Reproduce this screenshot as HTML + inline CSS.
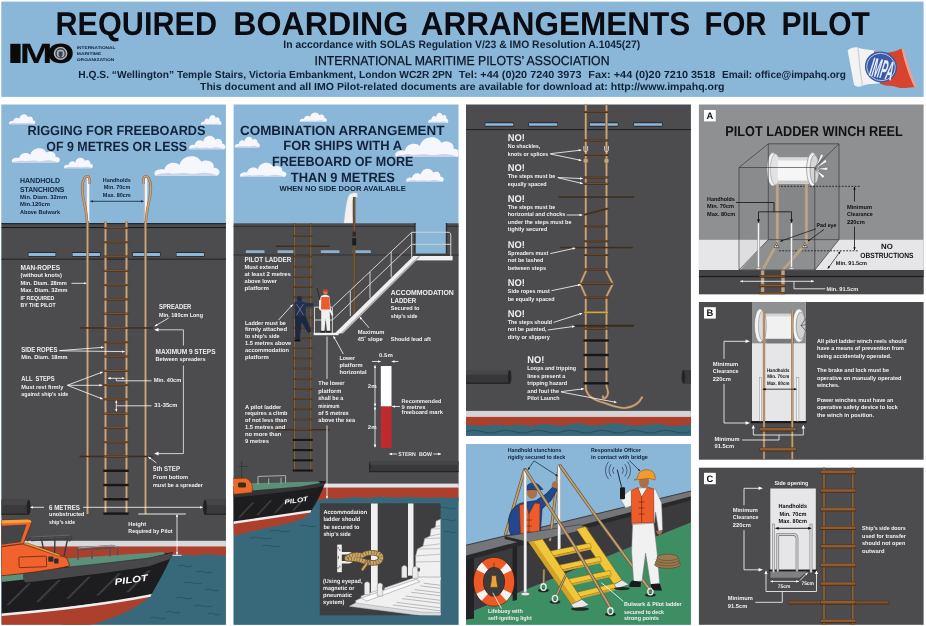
<!DOCTYPE html>
<html lang="en">
<head>
<meta charset="utf-8">
<title>Required Boarding Arrangements for Pilot</title>
<style>
html,body{margin:0;padding:0;background:#fff;}
body{width:926px;height:626px;overflow:hidden;font-family:"Liberation Sans",sans-serif;}
svg{display:block;will-change:transform;}
svg text{font-family:"Liberation Sans",sans-serif;text-rendering:geometricPrecision;}
.w{fill:#efefef;font-weight:bold;}
.d{fill:#10233a;font-weight:bold;}
.k{fill:#111;font-weight:bold;}
</style>
</head>
<body>
<svg width="926" height="626" viewBox="0 0 926 626">
<filter id="soft" x="0" y="0" width="926" height="626" filterUnits="userSpaceOnUse" color-interpolation-filters="sRGB"><feGaussianBlur stdDeviation="0.5"/></filter>
<g filter="url(#soft)">
<defs>
  <marker id="aw" viewBox="0 0 10 10" refX="9" refY="5" markerWidth="3.8" markerHeight="3.8" orient="auto-start-reverse"><path d="M0,1 L10,5 L0,9 z" fill="#fff"/></marker>
  <marker id="ak" viewBox="0 0 10 10" refX="9" refY="5" markerWidth="3.8" markerHeight="3.8" orient="auto-start-reverse"><path d="M0,1 L10,5 L0,9 z" fill="#10233a"/></marker>
  <marker id="ab" viewBox="0 0 10 10" refX="9" refY="5" markerWidth="3.8" markerHeight="3.8" orient="auto-start-reverse"><path d="M0,1 L10,5 L0,9 z" fill="#111"/></marker>
  <symbol id="cloud" viewBox="0 3.5 58 18.5" preserveAspectRatio="none" overflow="visible">
    <path d="M1.5,22 C-1.5,18.5 4,15 9.5,16.6 C10.5,10.5 19,8.5 23,12.4 C25,3.6 38.5,1.6 42.5,9.6 C47.5,6.6 54.5,9.6 53.5,14.8 C59,14.8 60.5,20 56.5,22 Z" fill="#f6f7fc"/>
    <path d="M1.5,22 C4,19.6 9,20.4 13,19.4 C18,21.4 25,18.6 31,20 C37,21.2 43,18.6 48,19.6 C52,20.4 55,20.4 56.5,22 Z" fill="#c9d3ea"/>
  </symbol>
</defs>
<rect x="0" y="0" width="926" height="626" fill="#ffffff"/>
<!-- header band -->
<rect x="1.3" y="1.6" width="922.3" height="95.3" fill="#8ab6d8"/>
<g font-size="33" font-weight="bold" fill="#0b0b12">
<text x="55.5" y="34.5" textLength="161.5" lengthAdjust="spacingAndGlyphs">REQUIRED</text>
<text x="233.3" y="34.5" textLength="175" lengthAdjust="spacingAndGlyphs">BOARDING</text>
<text x="420.8" y="34.5" textLength="269.5" lengthAdjust="spacingAndGlyphs">ARRANGEMENTS</text>
<text x="704.5" y="34.5" textLength="62" lengthAdjust="spacingAndGlyphs">FOR</text>
<text x="781.5" y="34.5" textLength="88.3" lengthAdjust="spacingAndGlyphs">PILOT</text>
</g>
<text x="283.3" y="47.6" font-size="10.8" font-weight="bold" fill="#0f2236" textLength="357" lengthAdjust="spacingAndGlyphs">In accordance with SOLAS Regulation V/23 &amp; IMO Resolution A.1045(27)</text>
<text x="314.5" y="64.6" font-size="13" fill="#0b1626" stroke="#0b1626" stroke-width="0.25" textLength="295" lengthAdjust="spacingAndGlyphs">INTERNATIONAL MARITIME PILOTS’ ASSOCIATION</text>
<g font-size="10.3" font-weight="bold" fill="#0f2236">
<text x="78.3" y="77.6" textLength="373.8" lengthAdjust="spacingAndGlyphs">H.Q.S. “Wellington” Temple Stairs, Victoria Embankment, London WC2R 2PN</text>
<text x="458.8" y="77.6" textLength="122.7" lengthAdjust="spacingAndGlyphs">Tel: +44 (0)20 7240 3973</text>
<text x="588.3" y="77.6" textLength="127" lengthAdjust="spacingAndGlyphs">Fax: +44 (0)20 7210 3518</text>
<text x="722" y="77.6" textLength="123.8" lengthAdjust="spacingAndGlyphs">Email: office@impahq.org</text>
</g>
<text x="200" y="89.6" font-size="10.3" font-weight="bold" fill="#0f2236" textLength="524.5" lengthAdjust="spacingAndGlyphs">This document and all IMO Pilot-related documents are available for download at: http://www.impahq.org</text>
<!-- IMO logo -->
<g id="imo-logo">
  <g font-size="27.9" font-weight="bold" fill="#0a0a0a">
  <text transform="translate(5.5,63) scale(2.56,1)">I</text>
  <text transform="translate(19.75,63) scale(1.408,1)">M</text>
  <text transform="translate(47.36,63.2) scale(1.242,1)">O</text>
  </g>
  <ellipse cx="61" cy="53.4" rx="9" ry="8.6" fill="#0a0a0a"/>
  <ellipse cx="60.6" cy="53.4" rx="6.8" ry="6.6" fill="#aab4bd"/>
  <ellipse cx="60.6" cy="53.4" rx="4.6" ry="4.5" fill="none" stroke="#2a2f36" stroke-width="1.2"/>
  <path d="M58.6,51.4 h4 v3 c0,1.4 -1,2.2 -2,2.6 c-1,-0.4 -2,-1.2 -2,-2.6 z" fill="#3a424c"/>
  <text x="76.8" y="49" font-size="3.9" font-weight="bold" fill="#0f2236" textLength="38.6" lengthAdjust="spacingAndGlyphs">INTERNATIONAL</text>
  <text x="76.8" y="54.9" font-size="3.9" font-weight="bold" fill="#0f2236" textLength="24.5" lengthAdjust="spacingAndGlyphs">MARITIME</text>
  <text x="76.8" y="60.8" font-size="3.9" font-weight="bold" fill="#0f2236" textLength="37.5" lengthAdjust="spacingAndGlyphs">ORGANIZATION</text>
</g>
<!-- IMPA flag logo -->
<g id="impa-logo">
  <path d="M847.6,50.6 C851,47.4 856,46.6 859,48 C864,49.6 870,49.4 876,51 L880,83 C873,84.4 867,83.6 862,86 C858.6,87.6 855.4,86.6 854,84.6 Z" fill="#f3f3f3"/>
  <path d="M858,48 C859,60 860.6,74 862.4,86" stroke="#d0d0d6" stroke-width="1.3" fill="none"/>
  <path d="M874,51 C882,53.6 891,54 901.6,48.6 C905,62 909,75 915.6,87.6 C910,86.4 904,89.4 898,87.4 C892,85.4 886,87 880,83.6 Z" fill="#d8432e"/>
  <path d="M901.6,48.6 C903.6,58 908,75 914.6,87.4 C917,88 916.6,86.4 915.6,84.4 C910.6,73 906,58 903.6,49 Z" fill="#f2a08c"/>
  <ellipse cx="881" cy="67" rx="16.2" ry="15.4" transform="rotate(20 881 67)" fill="#3a5aa6"/>
  <ellipse cx="881" cy="67" rx="14.4" ry="13.6" transform="rotate(20 881 67)" fill="none" stroke="#c8d4ee" stroke-width="0.8"/>
  <text transform="translate(868.4,75.4) rotate(13) scale(0.36,1)" font-size="27" font-weight="bold" font-style="italic" fill="#e8eefa">IMPA</text>
</g>
<!-- panel backgrounds -->
<rect x="1.3" y="104.5" width="224.6" height="520.3" fill="#8ab6d8"/>
<rect x="233.6" y="104.5" width="224.9" height="520.3" fill="#8ab6d8"/>
<rect x="466" y="104.5" width="224.9" height="331.2" fill="#4c4c4e"/>
<rect x="466" y="444" width="224.9" height="180.8" fill="#8ab6d8"/>
<rect x="698.9" y="104.5" width="224.7" height="189.7" fill="#8e9091"/>
<rect x="698.9" y="302" width="224.7" height="157.7" fill="#4c4c4e"/>
<rect x="698.9" y="467.7" width="224.7" height="157.1" fill="#4c4c4e"/>
<g id="panel1">
<clipPath id="c1"><rect x="1.3" y="104.5" width="224.6" height="520.3"/></clipPath>
<g clip-path="url(#c1)">
<use href="#cloud" x="8.75" y="113.75" width="26.25" height="10.5" preserveAspectRatio="none"/>
<use href="#cloud" x="200.75" y="114.5" width="20.5" height="10.5" preserveAspectRatio="none"/>
<use href="#cloud" x="11.25" y="147.5" width="48" height="15" preserveAspectRatio="none"/>
<use href="#cloud" x="63.75" y="157" width="28.75" height="11.25" preserveAspectRatio="none"/>
<use href="#cloud" x="188.75" y="135" width="36.25" height="14.25" preserveAspectRatio="none"/>
<use href="#cloud" x="153.75" y="155" width="65" height="20.75" preserveAspectRatio="none"/>
<rect x="1.3" y="223" width="225" height="320" fill="#4c4c4e"/>
<rect x="1.3" y="223" width="225" height="1.2" fill="#1c2832"/>
<rect x="1.3" y="227" width="225" height="1.1" fill="#1a1a1c"/>
<rect x="1.3" y="258.6" width="225" height="1.2" fill="#2a2a2c"/>
<rect x="27.9" y="252" width="28.2" height="4.8" fill="#2a2a2c" rx="0.8"/>
<rect x="28.5" y="252.9" width="27" height="3" fill="#8db9dc" rx="0.4"/>
<rect x="71.9" y="252" width="28.7" height="4.8" fill="#2a2a2c" rx="0.8"/>
<rect x="72.5" y="252.9" width="27.5" height="3" fill="#8db9dc" rx="0.4"/>
<rect x="132.4" y="252" width="28.2" height="4.8" fill="#2a2a2c" rx="0.8"/>
<rect x="133" y="252.9" width="27" height="3" fill="#8db9dc" rx="0.4"/>
<rect x="175.9" y="252" width="28.7" height="4.8" fill="#2a2a2c" rx="0.8"/>
<rect x="176.5" y="252.9" width="27.5" height="3" fill="#8db9dc" rx="0.4"/>
<rect x="1.3" y="540.8" width="225" height="5.8" fill="#d9d9db"/>
<rect x="1.3" y="546.5" width="225" height="9.5" fill="#ad402c"/>
<rect x="1.3" y="555" width="172" height="12" fill="#ad402c"/>
<path d="M172,555 C180,553.5 190,556.5 200,555 C210,553.5 218,556 226,555 L227,626 L60,626 Z" fill="#37697a"/>
<path d="M178,566 q3.5,-1.6 7.0,0 t7.0,0" fill="none" stroke="#265a6b" stroke-width="1.1"/>
<path d="M196,572 q4.0,-1.6 8.0,0 t8.0,0" fill="none" stroke="#265a6b" stroke-width="1.1"/>
<path d="M184,583 q4.5,-1.6 9.0,0 t9.0,0" fill="none" stroke="#265a6b" stroke-width="1.1"/>
<path d="M205,590 q3.5,-1.6 7.0,0 t7.0,0" fill="none" stroke="#265a6b" stroke-width="1.1"/>
<path d="M176,598 q4.0,-1.6 8.0,0 t8.0,0" fill="none" stroke="#265a6b" stroke-width="1.1"/>
<path d="M194,606 q4.5,-1.6 9.0,0 t9.0,0" fill="none" stroke="#265a6b" stroke-width="1.1"/>
<path d="M166,612 q3.5,-1.6 7.0,0 t7.0,0" fill="none" stroke="#265a6b" stroke-width="1.1"/>
<path d="M208,614 q3.0,-1.6 6.0,0 t6.0,0" fill="none" stroke="#265a6b" stroke-width="1.1"/>
<path d="M150,618 q4.0,-1.6 8.0,0 t8.0,0" fill="none" stroke="#265a6b" stroke-width="1.1"/>
<rect x="1.3" y="499.7" width="27.7" height="15.1" fill="#3a3a3c"/>
<rect x="1.3" y="499.7" width="27.7" height="5.285" fill="#464648"/>
<rect x="1.3" y="513.6" width="27.7" height="1.2" fill="#242426"/>
<ellipse cx="28.6" cy="507.25" rx="2" ry="7.55" fill="#222224"/>
<rect x="204.5" y="499.7" width="22.5" height="15.1" fill="#3a3a3c"/>
<rect x="204.5" y="499.7" width="22.5" height="5.285" fill="#464648"/>
<rect x="204.5" y="513.6" width="22.5" height="1.2" fill="#242426"/>
<ellipse cx="205" cy="507.25" rx="2" ry="7.55" fill="#222224"/>
<rect x="85.9" y="178" width="3.4" height="45" fill="#f4f4f4"/>
<rect x="85.9" y="178" width="0.7" height="45" fill="#9a9a9a"/>
<path d="M87.0,222 C86.5,205 81.1,196 82.3,186 C82.89999999999999,178.5 85.9,175.6 88.1,176.4 C90.1,177.4 89.9,181 89.7,184" fill="none" stroke="#86684a" stroke-width="2.6"/>
<path d="M87.0,222 C86.5,205 81.1,196 82.3,186 C82.89999999999999,178.5 85.9,175.6 88.1,176.4 C90.1,177.4 89.9,181 89.7,184" fill="none" stroke="#c9a47c" stroke-width="1.5"/>
<line x1="87.5" y1="221" x2="87.5" y2="514" stroke="#86684a" stroke-width="2.6"/>
<line x1="87.5" y1="221" x2="87.5" y2="514" stroke="#c9a47c" stroke-width="1.5"/>
<rect x="143.9" y="178" width="3.4" height="45" fill="#f4f4f4"/>
<rect x="143.9" y="178" width="0.7" height="45" fill="#9a9a9a"/>
<path d="M146.0,222 C146.5,205 151.89999999999998,196 150.7,186 C150.1,178.5 147.1,175.6 144.9,176.4 C142.9,177.4 143.1,181 143.3,184" fill="none" stroke="#86684a" stroke-width="2.6"/>
<path d="M146.0,222 C146.5,205 151.89999999999998,196 150.7,186 C150.1,178.5 147.1,175.6 144.9,176.4 C142.9,177.4 143.1,181 143.3,184" fill="none" stroke="#c9a47c" stroke-width="1.5"/>
<line x1="145.5" y1="221" x2="145.5" y2="514" stroke="#86684a" stroke-width="2.6"/>
<line x1="145.5" y1="221" x2="145.5" y2="514" stroke="#c9a47c" stroke-width="1.5"/>
<line x1="105.5" y1="221.5" x2="105.5" y2="514" stroke="#86684a" stroke-width="2.6"/>
<line x1="105.5" y1="221.5" x2="105.5" y2="514" stroke="#c9a47c" stroke-width="1.6"/>
<line x1="126.5" y1="221.5" x2="126.5" y2="514" stroke="#86684a" stroke-width="2.6"/>
<line x1="126.5" y1="221.5" x2="126.5" y2="514" stroke="#c9a47c" stroke-width="1.6"/>
<rect x="103.7" y="227" width="24.6" height="2" fill="#4a2f18"/>
<rect x="104" y="227.2" width="24" height="1.1" fill="#7c5430"/>
<rect x="103.7" y="241.28" width="24.6" height="2" fill="#4a2f18"/>
<rect x="104" y="241.48" width="24" height="1.1" fill="#7c5430"/>
<rect x="103.7" y="255.56" width="24.6" height="2" fill="#4a2f18"/>
<rect x="104" y="255.76" width="24" height="1.1" fill="#7c5430"/>
<rect x="103.7" y="269.84" width="24.6" height="2" fill="#4a2f18"/>
<rect x="104" y="270.04" width="24" height="1.1" fill="#7c5430"/>
<rect x="103.7" y="284.12" width="24.6" height="2" fill="#4a2f18"/>
<rect x="104" y="284.32" width="24" height="1.1" fill="#7c5430"/>
<rect x="103.7" y="298.4" width="24.6" height="2" fill="#4a2f18"/>
<rect x="104" y="298.6" width="24" height="1.1" fill="#7c5430"/>
<rect x="103.7" y="312.68" width="24.6" height="2" fill="#4a2f18"/>
<rect x="104" y="312.88" width="24" height="1.1" fill="#7c5430"/>
<rect x="79.5" y="327.21" width="73.5" height="1.5" fill="#3f2d1d"/>
<rect x="103.7" y="326.96" width="24.6" height="2" fill="#4a2f18"/>
<rect x="104" y="327.16" width="24" height="1.1" fill="#7c5430"/>
<rect x="103.7" y="341.24" width="24.6" height="2" fill="#4a2f18"/>
<rect x="104" y="341.44" width="24" height="1.1" fill="#7c5430"/>
<rect x="103.7" y="355.52" width="24.6" height="2" fill="#4a2f18"/>
<rect x="104" y="355.72" width="24" height="1.1" fill="#7c5430"/>
<rect x="103.7" y="369.8" width="24.6" height="2" fill="#4a2f18"/>
<rect x="104" y="370" width="24" height="1.1" fill="#7c5430"/>
<rect x="103.7" y="384.08" width="24.6" height="2" fill="#4a2f18"/>
<rect x="104" y="384.28" width="24" height="1.1" fill="#7c5430"/>
<rect x="103.7" y="398.36" width="24.6" height="2" fill="#4a2f18"/>
<rect x="104" y="398.56" width="24" height="1.1" fill="#7c5430"/>
<rect x="103.7" y="412.64" width="24.6" height="2" fill="#4a2f18"/>
<rect x="104" y="412.84" width="24" height="1.1" fill="#7c5430"/>
<rect x="103.7" y="426.92" width="24.6" height="2" fill="#4a2f18"/>
<rect x="104" y="427.12" width="24" height="1.1" fill="#7c5430"/>
<rect x="103.7" y="441.2" width="24.6" height="2" fill="#4a2f18"/>
<rect x="104" y="441.4" width="24" height="1.1" fill="#7c5430"/>
<rect x="79.5" y="455.73" width="73.5" height="1.5" fill="#3f2d1d"/>
<rect x="103.7" y="455.48" width="24.6" height="2" fill="#4a2f18"/>
<rect x="104" y="455.68" width="24" height="1.1" fill="#7c5430"/>
<rect x="103.4" y="469.56" width="25.2" height="2.4" fill="#161616"/>
<rect x="103.4" y="483.84" width="25.2" height="2.4" fill="#161616"/>
<rect x="103.4" y="498.12" width="25.2" height="2.4" fill="#161616"/>
<rect x="103.4" y="512.4" width="25.2" height="2.4" fill="#161616"/>
<text x="27.5" y="135" font-size="13.4" class="d" textLength="178" lengthAdjust="spacingAndGlyphs">RIGGING FOR FREEBOARDS</text>
<text x="46.3" y="151" font-size="13.4" class="d" textLength="140.7" lengthAdjust="spacingAndGlyphs">OF 9 METRES OR LESS</text>
<text x="20" y="182.6" font-size="7.3" class="d" textLength="40" lengthAdjust="spacingAndGlyphs">HANDHOLD</text>
<text x="20" y="191.7" font-size="7.3" class="d" textLength="44.3" lengthAdjust="spacingAndGlyphs">STANCHIONS</text>
<text x="20" y="199.1" font-size="5.7" class="d" textLength="47" lengthAdjust="spacingAndGlyphs">Min. Diam. 32mm</text>
<text x="20" y="206.4" font-size="5.7" class="d" textLength="30" lengthAdjust="spacingAndGlyphs">Min.120cm</text>
<text x="20" y="213.8" font-size="5.7" class="d" textLength="40" lengthAdjust="spacingAndGlyphs">Above Bulwark</text>
<text x="102.8" y="181.6" font-size="5.7" class="d" textLength="28" lengthAdjust="spacingAndGlyphs">Handholds</text>
<text x="103.8" y="189.1" font-size="5.7" class="d" textLength="26.5" lengthAdjust="spacingAndGlyphs">Min. 70cm</text>
<text x="102.8" y="196.6" font-size="5.7" class="d" textLength="28" lengthAdjust="spacingAndGlyphs">Max. 80cm</text>
<line x1="90.5" y1="201.3" x2="143.5" y2="201.3" stroke="#10233a" stroke-width="0.8" marker-end="url(#ak)" marker-start="url(#ak)"/>
<text x="20.5" y="270.2" font-size="7.3" class="w" textLength="39.5" lengthAdjust="spacingAndGlyphs">MAN-ROPES</text>
<text x="20.5" y="277.3" font-size="5.7" class="w" textLength="41.5" lengthAdjust="spacingAndGlyphs">(without knots)</text>
<text x="20.5" y="284.8" font-size="5.7" class="w" textLength="46.3" lengthAdjust="spacingAndGlyphs">Min. Diam. 28mm</text>
<text x="20.5" y="292.3" font-size="5.7" class="w" textLength="47" lengthAdjust="spacingAndGlyphs">Max. Diam. 32mm</text>
<text x="20.5" y="299.7" font-size="5.7" class="w" textLength="33.8" lengthAdjust="spacingAndGlyphs">IF REQUIRED</text>
<text x="20.5" y="307.1" font-size="5.7" class="w" textLength="35" lengthAdjust="spacingAndGlyphs">BY THE PILOT</text>
<line x1="71.5" y1="283.3" x2="86.3" y2="283.3" stroke="#fff" stroke-width="0.8" marker-end="url(#aw)"/>
<text x="159" y="308.9" font-size="7.3" class="w" textLength="32.3" lengthAdjust="spacingAndGlyphs">SPREADER</text>
<text x="159" y="317.2" font-size="5.7" class="w" textLength="44" lengthAdjust="spacingAndGlyphs">Min. 180cm Long</text>
<line x1="168.6" y1="318" x2="154.8" y2="326.2" stroke="#fff" stroke-width="0.8" marker-end="url(#aw)"/>
<path d="M155.5,329.8 H183.4 V345.6 M183.4,365.6 V453.6 H155.5" fill="none" stroke="#f0f0f0" stroke-width="0.8"/>
<path d="M158.5,328 L154.2,329.8 L158.5,331.6 Z M158.5,451.8 L154.2,453.6 L158.5,455.4 Z" fill="#fff"/>
<text x="155.5" y="353.7" font-size="7.3" class="w" textLength="60" lengthAdjust="spacingAndGlyphs">MAXIMUM 9 STEPS</text>
<text x="155.5" y="360.9" font-size="5.7" class="w" textLength="50" lengthAdjust="spacingAndGlyphs">Between spreaders</text>
<text x="21.3" y="351.6" font-size="7.3" class="w" textLength="36.2" lengthAdjust="spacingAndGlyphs">SIDE ROPES</text>
<text x="21.3" y="359.1" font-size="5.7" class="w" textLength="46.2" lengthAdjust="spacingAndGlyphs">Min. Diam. 18mm</text>
<line x1="59.5" y1="350.6" x2="103.6" y2="347.3" stroke="#fff" stroke-width="0.8" marker-end="url(#aw)"/>
<line x1="59.5" y1="350.8" x2="124.6" y2="351.6" stroke="#fff" stroke-width="0.8" marker-end="url(#aw)"/>
<text x="21.3" y="381.1" font-size="7.3" class="w" textLength="33.2" lengthAdjust="spacingAndGlyphs" xml:space="preserve">ALL  STEPS</text>
<text x="21.3" y="388.6" font-size="5.7" class="w" textLength="42" lengthAdjust="spacingAndGlyphs">Must rest firmly</text>
<text x="21.3" y="396.1" font-size="5.7" class="w" textLength="47" lengthAdjust="spacingAndGlyphs">against ship’s side</text>
<line x1="67.5" y1="385.2" x2="102.6" y2="372" stroke="#fff" stroke-width="0.8" marker-end="url(#aw)"/>
<line x1="67.5" y1="385.3" x2="102.2" y2="385.3" stroke="#fff" stroke-width="0.8" marker-end="url(#aw)"/>
<line x1="67.5" y1="385.4" x2="102.6" y2="399" stroke="#fff" stroke-width="0.8" marker-end="url(#aw)"/>
<text x="153.8" y="382.1" font-size="5.7" class="w" textLength="27.5" lengthAdjust="spacingAndGlyphs">Min. 40cm</text>
<path d="M151.5,380.8 H116.3 V378.3" fill="none" stroke="#fff" stroke-width="0.8"/>
<line x1="108" y1="378.3" x2="124.3" y2="378.3" stroke="#fff" stroke-width="0.8" marker-end="url(#aw)" marker-start="url(#aw)"/>
<text x="154.3" y="407.1" font-size="5.7" class="w" textLength="23.2" lengthAdjust="spacingAndGlyphs">31-35cm</text>
<path d="M151.5,405.8 H116.3" fill="none" stroke="#fff" stroke-width="0.8"/>
<line x1="116.3" y1="400.6" x2="116.3" y2="411.4" stroke="#fff" stroke-width="0.8" marker-end="url(#aw)" marker-start="url(#aw)"/>
<line x1="156.3" y1="462.8" x2="148.4" y2="456.9" stroke="#fff" stroke-width="0.8" marker-end="url(#aw)"/>
<text x="153" y="471.1" font-size="7" class="w" textLength="27" lengthAdjust="spacingAndGlyphs">5th STEP</text>
<text x="153" y="479.1" font-size="5.7" class="w" textLength="35" lengthAdjust="spacingAndGlyphs">From bottom</text>
<text x="153" y="486.6" font-size="5.7" class="w" textLength="50" lengthAdjust="spacingAndGlyphs">must be a spreader</text>
<line x1="44" y1="507.3" x2="30.6" y2="507.3" stroke="#fff" stroke-width="0.8" marker-end="url(#aw)"/>
<line x1="83" y1="507.3" x2="202.6" y2="507.3" stroke="#fff" stroke-width="0.8" marker-end="url(#aw)"/>
<text x="49" y="509.6" font-size="7.3" class="w" textLength="31" lengthAdjust="spacingAndGlyphs">6 METRES</text>
<text x="49" y="516.2" font-size="5.7" class="w" textLength="35.5" lengthAdjust="spacingAndGlyphs">unobstructed</text>
<text x="49" y="523.6" font-size="5.7" class="w" textLength="26" lengthAdjust="spacingAndGlyphs">ship’s side</text>
<text x="128.3" y="525.9" font-size="5.7" class="w" textLength="18" lengthAdjust="spacingAndGlyphs">Height</text>
<text x="128.3" y="533.4" font-size="5.7" class="w" textLength="44.2" lengthAdjust="spacingAndGlyphs">Required by Pilot</text>
<line x1="138.3" y1="514" x2="185.8" y2="514" stroke="#fff" stroke-width="0.9"/>
<line x1="177" y1="514.6" x2="177" y2="554.6" stroke="#fff" stroke-width="0.8" marker-end="url(#aw)" marker-start="url(#aw)"/>
<line x1="172.5" y1="555.3" x2="181.5" y2="555.3" stroke="#fff" stroke-width="0.9"/>
<g id="boat1">
<path d="M1.3,575 L60,566 L120,557 L172.8,552.6 C168,565 160,580 150.5,596 L1.3,616 Z" fill="#1d1d1f"/>
<path d="M6,605.34 l22,-22 l3,0 l-22,22 z" fill="#3c3c3f"/>
<path d="M36,602.04 l22,-22 l3,0 l-22,22 z" fill="#3c3c3f"/>
<path d="M66,598.74 l22,-22 l3,0 l-22,22 z" fill="#3c3c3f"/>
<path d="M96,595.44 l22,-22 l3,0 l-22,22 z" fill="#3c3c3f"/>
<path d="M126,592.14 l22,-22 l3,0 l-22,22 z" fill="#3c3c3f"/>
<path d="M1.3,615 Q90,608 150.4,596 C140,606 120,616 100,622 C92,624.6 86,626 82,626 L1.3,626 Z" fill="#ad402c"/>
<path d="M1.3,613.4 Q90,606 151.8,594 L150.4,596.8 Q90,608.6 1.3,616 Z" fill="#efefef"/>
<path d="M1.3,575.5 L24,573.5 L24,579.5 L1.3,582 Z" fill="#5d9079"/>
<path d="M66,558.5 L163,552 L166,554.8 L140,562.5 L69,568 Z" fill="#5d9079"/>
<path d="M24,571.4 C60,568 110,563 149,558 L172.8,552.6 L171.4,558.4 L149,566.2 C110,572.6 60,578.6 26,582.4 C22.5,582.4 22.5,572 24,571.4 Z" fill="#48484b"/>
<path d="M24,571.4 C60,568 110,563 149,558 L172.8,552.6" fill="none" stroke="#2a2a2c" stroke-width="0.6"/>
<path d="M1.3,546.8 L22,543.8 L52,553.5 L66.5,557.5 L69.8,565.8 C60,568.6 30,573 1.3,575.8 Z" fill="#f0632c" stroke="#5a2410" stroke-width="0.7"/>
<path d="M1.3,520.4 L27,519.6 C30,519.6 32,521 31.4,523 L23.5,543.6 L1.3,546.5 Z" fill="#f0632c" stroke="#5a2410" stroke-width="0.7"/>
<path d="M1.3,525.8 L26.6,524.6 L20.6,542.2 L1.3,544.8 Z" fill="#454548"/>
<path d="M1.3,520.2 L27,519.4 C29.6,519.3 31.6,520.6 31.6,522.2 L1.3,523.6 Z" fill="#f6a23a"/>
<path d="M23,543.4 L27,542.8 L62,555.4 L58,556 Z" fill="#f6a23a" stroke="#5a2410" stroke-width="0.4"/>
<rect x="19" y="556.6" width="27.5" height="10.6" fill="#f0632c" stroke="#7a2c12" stroke-width="0.9" rx="0.8" transform="rotate(-2 32 562)"/>
<rect x="48.2" y="556.6" width="5.2" height="5.2" fill="#2e2e30" rx="1"/>
<rect x="54" y="558.4" width="4.6" height="5.2" fill="#2e2e30" rx="1"/>
<path d="M27,541 L31,537.4 L70,535.6 L72,538 L69,541.4 M41,537 L43.4,548.6 M55,536.4 L54.6,553 M68,537 L64,556 M31,540.6 L69,538.6" fill="none" stroke="#3c3c40" stroke-width="1.4"/>
<path d="M31,537 L70,535.2" fill="none" stroke="#8a8a90" stroke-width="0.5"/>
<path d="M78,560 V548 L112,545.4 L117.6,547 V555.4 M92,559 V550.6 M110,556.6 V548 M80,549.8 L116,547.6" fill="none" stroke="#505054" stroke-width="1.3"/>
<path d="M78,548 L112,545.4 L117.6,547" fill="none" stroke="#cfcfd2" stroke-width="0.7"/>
<text x="115" y="585" font-size="9" font-weight="bold" font-style="italic" fill="#fff" textLength="33.4" lengthAdjust="spacingAndGlyphs" transform="rotate(-7.5 115 585)">PILOT</text>
</g>
</g>
</g>
<g id="panel2">
<clipPath id="c2"><rect x="233.6" y="104.5" width="224.9" height="520.3"/></clipPath>
<g clip-path="url(#c2)">
<use href="#cloud" x="299.5" y="112" width="27" height="9.75" preserveAspectRatio="none"/>
<use href="#cloud" x="428" y="112" width="20" height="11" preserveAspectRatio="none"/>
<use href="#cloud" x="234.5" y="136" width="25" height="11.5" preserveAspectRatio="none"/>
<use href="#cloud" x="394.5" y="136" width="64" height="21" preserveAspectRatio="none"/>
<use href="#cloud" x="239.5" y="162" width="46.25" height="15" preserveAspectRatio="none"/>
<use href="#cloud" x="405.75" y="168" width="37.5" height="14" preserveAspectRatio="none"/>
<path d="M343.8,223.4 C345,212 346.5,200 348.5,196 C350,192.6 355,192.2 357.4,193.2 L357.4,197.4 C355,196.6 353.2,197 352.6,199.5 C352,206 352.6,215 352.9,223.4 Z" fill="#f2f2f2" stroke="#b8b8bc" stroke-width="0.5"/>
<rect x="233" y="223.3" width="226" height="262" fill="#4c4c4e"/>
<rect x="233" y="225.9" width="226" height="0.9" fill="#2c2c2e"/>
<rect x="415.2" y="222.5" width="31" height="31" fill="#8ab6d8"/>
<rect x="414.2" y="223" width="1.4" height="30.6" fill="#2e2e30"/>
<rect x="445.8" y="223" width="1.4" height="30.6" fill="#2e2e30"/>
<rect x="245.8" y="250.2" width="18.7" height="2.8" fill="#8fb0cc" rx="0.5"/>
<rect x="277.5" y="250.2" width="17" height="2.8" fill="#8fb0cc" rx="0.5"/>
<rect x="320.8" y="250.2" width="18.7" height="2.8" fill="#8fb0cc" rx="0.5"/>
<rect x="352.8" y="250.2" width="18" height="2.8" fill="#8fb0cc" rx="0.5"/>
<rect x="233" y="254.5" width="226" height="0.9" fill="#2e2e30"/>
<rect x="233" y="483.6" width="226" height="4.2" fill="#e2e2e4"/>
<rect x="233" y="487.6" width="226" height="13.4" fill="#ad402c"/>
<path d="M233,500 L320,500 C330,497.5 338,499.5 346,498 C356,496 364,498.6 372,497.4 C382,495.6 392,498.4 402,497.4 C414,496 424,498.6 436,497.6 C444,497 452,498.4 459,497.6 L460,626 L233,626 Z" fill="#37697a"/>
<path d="M250,538 q5.5,-1.6 11.0,0 t11.0,0" fill="none" stroke="#24586a" stroke-width="1"/>
<path d="M270,531 q5.0,-1.6 10.0,0 t10.0,0" fill="none" stroke="#24586a" stroke-width="1"/>
<path d="M262,546 q4.5,-1.6 9.0,0 t9.0,0" fill="none" stroke="#24586a" stroke-width="1"/>
<path d="M300,526 q4.0,-1.6 8.0,0 t8.0,0" fill="none" stroke="#24586a" stroke-width="1"/>
<path d="M438,508 q4.5,-1.6 9.0,0 t9.0,0" fill="none" stroke="#24586a" stroke-width="1"/>
<path d="M442,520 q3.5,-1.6 7.0,0 t7.0,0" fill="none" stroke="#24586a" stroke-width="1"/>
<path d="M444,532 q3.0,-1.6 6.0,0 t6.0,0" fill="none" stroke="#24586a" stroke-width="1"/>
<rect x="369" y="461.5" width="91" height="10.6" fill="#38383a"/>
<rect x="369" y="461.5" width="90" height="3.6" fill="#454547"/>
<rect x="369" y="470.9" width="90" height="1.2" fill="#242426"/>
<path d="M369,461.5 l2.4,5.3 l-2.4,5.3 z" fill="#262628"/>
<line x1="354.2" y1="197" x2="354.2" y2="313" stroke="#5e4426" stroke-width="2.4"/>
<line x1="354.2" y1="197" x2="354.2" y2="313" stroke="#7c5a32" stroke-width="1.2"/>
<rect x="352.6" y="231.5" width="3.2" height="5" fill="#2a2a2c"/>
<rect x="352.2" y="238" width="4" height="7.6" fill="#1c1c1e" rx="1"/>
<line x1="294.6" y1="223" x2="294.6" y2="471.6" stroke="#4a3c2a" stroke-width="2.3"/>
<line x1="294.6" y1="223" x2="294.6" y2="471.6" stroke="#7d6446" stroke-width="1.3"/>
<line x1="310.8" y1="223" x2="310.8" y2="471.6" stroke="#4a3c2a" stroke-width="2.3"/>
<line x1="310.8" y1="223" x2="310.8" y2="471.6" stroke="#7d6446" stroke-width="1.3"/>
<rect x="293" y="225.012" width="19.4" height="1.7" fill="#4a3522"/>
<rect x="293.3" y="225.212" width="18.8" height="0.8" fill="#64472a"/>
<rect x="293" y="235.206" width="19.4" height="1.7" fill="#4a3522"/>
<rect x="293.3" y="235.406" width="18.8" height="0.8" fill="#64472a"/>
<rect x="275.8" y="245.5" width="53.7" height="1.5" fill="#3f2d1d"/>
<rect x="293" y="245.4" width="19.4" height="1.7" fill="#4a3522"/>
<rect x="293.3" y="245.6" width="18.8" height="0.8" fill="#64472a"/>
<rect x="293" y="255.594" width="19.4" height="1.7" fill="#4a3522"/>
<rect x="293.3" y="255.794" width="18.8" height="0.8" fill="#64472a"/>
<rect x="293" y="265.788" width="19.4" height="1.7" fill="#4a3522"/>
<rect x="293.3" y="265.988" width="18.8" height="0.8" fill="#64472a"/>
<rect x="293" y="275.982" width="19.4" height="1.7" fill="#4a3522"/>
<rect x="293.3" y="276.182" width="18.8" height="0.8" fill="#64472a"/>
<rect x="293" y="286.176" width="19.4" height="1.7" fill="#4a3522"/>
<rect x="293.3" y="286.376" width="18.8" height="0.8" fill="#64472a"/>
<rect x="293" y="296.37" width="19.4" height="1.7" fill="#4a3522"/>
<rect x="293.3" y="296.57" width="18.8" height="0.8" fill="#64472a"/>
<rect x="293" y="306.564" width="19.4" height="1.7" fill="#4a3522"/>
<rect x="293.3" y="306.764" width="18.8" height="0.8" fill="#64472a"/>
<rect x="293" y="316.758" width="19.4" height="1.7" fill="#4a3522"/>
<rect x="293.3" y="316.958" width="18.8" height="0.8" fill="#64472a"/>
<rect x="293" y="326.952" width="19.4" height="1.7" fill="#4a3522"/>
<rect x="293.3" y="327.152" width="18.8" height="0.8" fill="#64472a"/>
<rect x="293" y="337.146" width="19.4" height="1.7" fill="#4a3522"/>
<rect x="293.3" y="337.346" width="18.8" height="0.8" fill="#64472a"/>
<rect x="293" y="347.34" width="19.4" height="1.7" fill="#4a3522"/>
<rect x="293.3" y="347.54" width="18.8" height="0.8" fill="#64472a"/>
<rect x="293" y="357.534" width="19.4" height="1.7" fill="#4a3522"/>
<rect x="293.3" y="357.734" width="18.8" height="0.8" fill="#64472a"/>
<rect x="293" y="367.728" width="19.4" height="1.7" fill="#4a3522"/>
<rect x="293.3" y="367.928" width="18.8" height="0.8" fill="#64472a"/>
<rect x="293" y="377.922" width="19.4" height="1.7" fill="#4a3522"/>
<rect x="293.3" y="378.122" width="18.8" height="0.8" fill="#64472a"/>
<rect x="293" y="388.116" width="19.4" height="1.7" fill="#4a3522"/>
<rect x="293.3" y="388.316" width="18.8" height="0.8" fill="#64472a"/>
<rect x="293" y="398.31" width="19.4" height="1.7" fill="#4a3522"/>
<rect x="293.3" y="398.51" width="18.8" height="0.8" fill="#64472a"/>
<rect x="293" y="408.504" width="19.4" height="1.7" fill="#4a3522"/>
<rect x="293.3" y="408.704" width="18.8" height="0.8" fill="#64472a"/>
<rect x="293" y="418.698" width="19.4" height="1.7" fill="#4a3522"/>
<rect x="293.3" y="418.898" width="18.8" height="0.8" fill="#64472a"/>
<rect x="275.8" y="428.992" width="53.7" height="1.5" fill="#3f2d1d"/>
<rect x="293" y="428.892" width="19.4" height="1.7" fill="#4a3522"/>
<rect x="293.3" y="429.092" width="18.8" height="0.8" fill="#64472a"/>
<rect x="292.7" y="438.886" width="20" height="2.1" fill="#161616"/>
<rect x="292.7" y="449.08" width="20" height="2.1" fill="#161616"/>
<rect x="292.7" y="459.274" width="20" height="2.1" fill="#161616"/>
<rect x="292.7" y="469.468" width="20" height="2.1" fill="#161616"/>
<path d="M411.7,258 V232.3 H448 C450,232.3 450.8,233.2 450.8,235 V256 M411.7,244.3 H450.8" fill="none" stroke="#cfd0d3" stroke-width="1"/>
<path d="M411.7,232.3 L332.4,307.2 M411.7,244.3 L332.4,320 M391.2,252 V277 M370,272 V298 M350.3,291 V316 M332.4,307.2 V333" fill="none" stroke="#cfd0d3" stroke-width="1"/>
<path d="M332.4,307.2 H314.5 V334 M314.5,320 H332.4" fill="none" stroke="#cfd0d3" stroke-width="1"/>
<rect x="413" y="256" width="39.6" height="4.4" fill="#f0f0f0"/>
<path d="M413.2,256.2 L418.4,256.2 L340.8,333.6 L334.6,333.6 Z" fill="#f0f0f0"/>
<path d="M418.4,256.2 L420.6,256.2 L343,333.6 L340.8,333.6 Z" fill="#b4b4b8"/>
<rect x="313.6" y="332.8" width="25" height="2.4" fill="#f0f0f0"/>
<g id="pilot-figure">
<circle cx="299.4" cy="298.6" r="2.6" fill="#1f2a44"/>
<path d="M294.4,302.5 C296,300.8 303,300.6 304.8,302.4 L313.6,303.6 L313.8,306 L305.6,306.8 L305.8,317 L294.6,317 Z" fill="#22314f"/>
<path d="M295,316.4 L305.8,316.4 L311.4,331.6 L308,333 L301.6,322 L299.6,340.6 L295.4,340.6 Z" fill="#1c2740"/>
<rect x="294.4" y="339.6" width="6" height="1.8" fill="#111"/>
<path d="M296.5,304 L303.4,315 M303.4,304 L296.5,315" fill="none" stroke="#8d94a6" stroke-width="0.6"/>
</g>
<g id="crew-figure">
<path d="M321,296.5 C320.6,294.6 329.6,294.4 329.4,296.6 L330.6,308 L333.4,315 L331.8,316 L329.8,311.6 L330.2,331.6 L327,331.6 L325.6,318 L324.4,331.6 L321.2,331.6 L321.2,311 L319,309 L319,301 Z" fill="#f0f0f0"/>
<path d="M321.4,297 L329.4,297 L330,309.6 L321,309.6 Z" fill="#ea5a2a"/>
<circle cx="325.4" cy="292.6" r="2.3" fill="#b98360"/>
<path d="M322.4,291.6 C322.4,288 328.6,288 328.6,291.6 Z" fill="#d2382b"/>
<rect x="320.4" y="330.8" width="4.6" height="1.6" fill="#222"/>
<rect x="326.2" y="330.8" width="4.6" height="1.6" fill="#222"/>
<path d="M317,288 L320,300" fill="none" stroke="#222" stroke-width="0.8"/>
</g>
<rect x="380.8" y="366" width="10.7" height="40.6" fill="#ffffff"/>
<rect x="380.8" y="406.5" width="10.7" height="41.3" fill="#c02a2d"/>
<line x1="327" y1="336.5" x2="327" y2="379" stroke="#fff" stroke-width="0.8"/>
<line x1="327" y1="425.5" x2="327" y2="498.4" stroke="#fff" stroke-width="0.8" marker-end="url(#aw)"/>
<text x="240" y="134.6" font-size="13.4" class="d" textLength="204.5" lengthAdjust="spacingAndGlyphs">COMBINATION ARRANGEMENT</text>
<text x="283.3" y="150.4" font-size="13.4" class="d" textLength="118.7" lengthAdjust="spacingAndGlyphs">FOR SHIPS WITH A</text>
<text x="272" y="166.2" font-size="13.4" class="d" textLength="141.3" lengthAdjust="spacingAndGlyphs">FREEBOARD OF MORE</text>
<text x="290.8" y="181.6" font-size="13.4" class="d" textLength="104.2" lengthAdjust="spacingAndGlyphs">THAN 9 METRES</text>
<text x="279.5" y="191.3" font-size="7.2" class="d" textLength="126.3" lengthAdjust="spacingAndGlyphs">WHEN NO SIDE DOOR AVAILABLE</text>
<text x="244.5" y="262.2" font-size="7.3" class="w" textLength="46.8" lengthAdjust="spacingAndGlyphs">PILOT LADDER</text>
<text x="244.5" y="269.2" font-size="5.7" class="w" textLength="33.8" lengthAdjust="spacingAndGlyphs">Must extend</text>
<text x="244.5" y="276.05" font-size="5.7" class="w" textLength="46.3" lengthAdjust="spacingAndGlyphs">at least 2 metres</text>
<text x="244.5" y="282.9" font-size="5.7" class="w" textLength="32.5" lengthAdjust="spacingAndGlyphs">above lower</text>
<text x="244.5" y="289.75" font-size="5.7" class="w" textLength="24.3" lengthAdjust="spacingAndGlyphs">platform</text>
<text x="390.8" y="295.2" font-size="7.3" class="w" textLength="63" lengthAdjust="spacingAndGlyphs">ACCOMMODATION</text>
<text x="390.8" y="303.4" font-size="7.3" class="w" textLength="25.5" lengthAdjust="spacingAndGlyphs">LADDER</text>
<text x="390.8" y="310.4" font-size="5.7" class="w" textLength="28.7" lengthAdjust="spacingAndGlyphs">Secured to</text>
<text x="390.8" y="317.6" font-size="5.7" class="w" textLength="26.7" lengthAdjust="spacingAndGlyphs">ship’s side</text>
<text x="245" y="324.6" font-size="5.7" class="w" textLength="40.8" lengthAdjust="spacingAndGlyphs">Ladder must be</text>
<text x="245" y="331.48" font-size="5.7" class="w" textLength="42" lengthAdjust="spacingAndGlyphs">firmly attached</text>
<text x="245" y="338.36" font-size="5.7" class="w" textLength="34.5" lengthAdjust="spacingAndGlyphs">to ship’s side</text>
<text x="245" y="345.24" font-size="5.7" class="w" textLength="46.3" lengthAdjust="spacingAndGlyphs">1.5 metres above</text>
<text x="245" y="352.12" font-size="5.7" class="w" textLength="44" lengthAdjust="spacingAndGlyphs">accommodation</text>
<text x="245" y="359" font-size="5.7" class="w" textLength="23.8" lengthAdjust="spacingAndGlyphs">platform</text>
<line x1="278.5" y1="320" x2="292.6" y2="304.6" stroke="#fff" stroke-width="0.8" marker-end="url(#aw)"/>
<text x="357.8" y="334.2" font-size="5.7" class="w" textLength="26.7" lengthAdjust="spacingAndGlyphs">Maximum</text>
<text x="357.8" y="341.2" font-size="5.7" class="w" textLength="25" lengthAdjust="spacingAndGlyphs">45˚ slope</text>
<text x="390.8" y="341.2" font-size="5.7" class="w" textLength="40" lengthAdjust="spacingAndGlyphs">Should lead aft</text>
<line x1="369" y1="327.8" x2="359.7" y2="316.8" stroke="#fff" stroke-width="0.8" marker-end="url(#aw)"/>
<text x="339.5" y="360.4" font-size="5.7" class="w" textLength="15.5" lengthAdjust="spacingAndGlyphs">Lower</text>
<text x="339.5" y="367.3" font-size="5.7" class="w" textLength="23" lengthAdjust="spacingAndGlyphs">platform</text>
<text x="339.5" y="374.2" font-size="5.7" class="w" textLength="27" lengthAdjust="spacingAndGlyphs">horizontal</text>
<line x1="343.3" y1="354" x2="333.5" y2="336.2" stroke="#fff" stroke-width="0.8" marker-end="url(#aw)"/>
<text x="379" y="356.6" font-size="5.4" class="w" textLength="13.8" lengthAdjust="spacingAndGlyphs">0.5m</text>
<line x1="372" y1="361.5" x2="380.6" y2="361.5" stroke="#fff" stroke-width="0.8" marker-end="url(#aw)"/>
<line x1="398.3" y1="361.5" x2="391.8" y2="361.5" stroke="#fff" stroke-width="0.8" marker-end="url(#aw)"/>
<line x1="375" y1="365.4" x2="375" y2="406.2" stroke="#fff" stroke-width="0.8" marker-end="url(#aw)" marker-start="url(#aw)"/>
<line x1="375" y1="406.8" x2="375" y2="447.2" stroke="#fff" stroke-width="0.8" marker-end="url(#aw)" marker-start="url(#aw)"/>
<text x="367.8" y="387.9" font-size="5.4" class="w" textLength="8.7" lengthAdjust="spacingAndGlyphs">2m</text>
<text x="367.8" y="429.2" font-size="5.4" class="w" textLength="8.7" lengthAdjust="spacingAndGlyphs">2m</text>
<text x="401.6" y="402.7" font-size="5.5" class="w" textLength="39.8" lengthAdjust="spacingAndGlyphs">Recommended</text>
<text x="401.6" y="408.6" font-size="5.5" class="w" textLength="23.8" lengthAdjust="spacingAndGlyphs">9 metres</text>
<text x="401.6" y="414.3" font-size="5.5" class="w" textLength="41.2" lengthAdjust="spacingAndGlyphs">freeboard mark</text>
<line x1="400" y1="406.5" x2="392.2" y2="406.5" stroke="#fff" stroke-width="0.8" marker-end="url(#aw)"/>
<text x="318.3" y="385.4" font-size="5.9" class="w" textLength="26.2" lengthAdjust="spacingAndGlyphs">The lower</text>
<text x="318.3" y="392.8" font-size="5.9" class="w" textLength="23" lengthAdjust="spacingAndGlyphs">platform</text>
<text x="318.3" y="400.2" font-size="5.9" class="w" textLength="25" lengthAdjust="spacingAndGlyphs">shall be a</text>
<text x="318.3" y="407.6" font-size="5.9" class="w" textLength="21.2" lengthAdjust="spacingAndGlyphs">minimum</text>
<text x="318.3" y="415" font-size="5.9" class="w" textLength="30.5" lengthAdjust="spacingAndGlyphs">of 5 metres</text>
<text x="318.3" y="422.4" font-size="5.9" class="w" textLength="36.7" lengthAdjust="spacingAndGlyphs">above the sea</text>
<text x="245" y="408.6" font-size="5.7" class="w" textLength="36.3" lengthAdjust="spacingAndGlyphs">A pilot ladder</text>
<text x="245" y="415.45" font-size="5.7" class="w" textLength="42.5" lengthAdjust="spacingAndGlyphs">requires a climb</text>
<text x="245" y="422.3" font-size="5.7" class="w" textLength="42" lengthAdjust="spacingAndGlyphs">of not less than</text>
<text x="245" y="429.15" font-size="5.7" class="w" textLength="40.3" lengthAdjust="spacingAndGlyphs">1.5 metres and</text>
<text x="245" y="436" font-size="5.7" class="w" textLength="36.3" lengthAdjust="spacingAndGlyphs">no more than</text>
<text x="245" y="442.85" font-size="5.7" class="w" textLength="24" lengthAdjust="spacingAndGlyphs">9 metres</text>
<text x="398.3" y="455.9" font-size="5.6" class="w" textLength="17.5" lengthAdjust="spacingAndGlyphs">STERN</text>
<text x="419" y="455.9" font-size="5.6" class="w" textLength="13" lengthAdjust="spacingAndGlyphs">BOW</text>
<line x1="397" y1="454" x2="389.4" y2="454" stroke="#fff" stroke-width="0.8" marker-end="url(#aw)"/>
<line x1="433.4" y1="454" x2="440.8" y2="454" stroke="#fff" stroke-width="0.8" marker-end="url(#aw)"/>
<g id="boat2">
<path d="M241.6,461 V478 M238.6,466.5 H247.6" fill="none" stroke="#3a3a3c" stroke-width="1.2"/>
<path d="M233,486 L252,483.6 L290,482 L325.8,481 C322,492 317,502 310.8,511.4 L233,523.4 Z" fill="#1d1d1f"/>
<path d="M238,517.48 l14,-15 l2.4,0 l-14,15 z" fill="#3c3c3f"/>
<path d="M256,515.14 l14,-15 l2.4,0 l-14,15 z" fill="#3c3c3f"/>
<path d="M274,512.8 l14,-15 l2.4,0 l-14,15 z" fill="#3c3c3f"/>
<path d="M292,510.46 l14,-15 l2.4,0 l-14,15 z" fill="#3c3c3f"/>
<path d="M233,523 L310.8,511.2 C308,516 303,519.4 296,521 C280,526 262,528 234,536 Z" fill="#ad402c"/>
<path d="M233,521.6 L311.4,510 L310.6,512.4 L233,524 Z" fill="#efefef"/>
<path d="M233,491.6 C260,489.6 300,486.4 324.6,482.4 L323.6,486 C300,491 262,494.6 233,497.6 Z" fill="#343437"/>
<path d="M251,483.2 L318,481.2 L320.4,483 L300,486.6 L252,490.6 Z" fill="#5d9079"/>
<path d="M233,478.4 L246,478.2 C250,480 252.6,484 252.4,487.4 L252,492.4 L233,494.4 Z" fill="#ef6a25" stroke="#5a2410" stroke-width="0.5"/>
<rect x="238" y="482.6" width="8" height="5" fill="#3a2a22" rx="1.5"/>
<path d="M258,484.4 V476.4 L285.6,475.6 V483 M268.7,484 V478.4 M281,483.4 V477.6" fill="none" stroke="#d9d9dc" stroke-width="0.7"/>
<text x="284.8" y="504.2" font-size="6.4" font-weight="bold" font-style="italic" fill="#fff" textLength="23.6" lengthAdjust="spacingAndGlyphs" transform="rotate(-8 284.8 504.2)">PILOT</text>
</g>
<g id="inset">
<rect x="319.8" y="503.3" width="120.8" height="112" fill="#3e3e40"/>
<clipPath id="c2i"><rect x="319.8" y="503.3" width="120.8" height="112"/></clipPath>
<g clip-path="url(#c2i)">
<rect x="371" y="503.3" width="6.7" height="91.4" fill="#f0f0f0"/>
<rect x="408" y="503.3" width="5.5" height="72.4" fill="#f0f0f0"/>
<path d="M442,518.6 L436,521 L435.4,527 L431,529 L430,536 L424.6,538.6 L423,546 L417.4,549 L415.6,556 L415.6,580 L442,580 Z" fill="#f0f0f0" stroke="#8a8a8e" stroke-width="0.5"/>
<path d="M435.4,527 L442,525 M431,529 L442,528.6 M430,536 L442,533.6 M424.6,538.6 L442,538 M423,546 L442,543.6 M417.4,549 L442,548.6 M415.6,556 L442,554 M415.6,562 L442,561.4" fill="none" stroke="#a4a4a8" stroke-width="0.6"/>
<path d="M349.4,606.3 L355.6,603 L355.6,600.6 L361,598 L361,596 L416,577 L442,577 L442,616 L421,615.6 Z" fill="#f0f0f0" stroke="#8a8a8e" stroke-width="0.5"/>
<path d="M349.4,606.3 L421,615.6 L442,616 L442,612.6 L421,612 L355.6,603 Z" fill="#dadadd" stroke="#8a8a8e" stroke-width="0.4"/>
<path d="M361,598 L416,579.4 L420,581.6 L367,601 Z" fill="#fafafa" stroke="#8a8a8e" stroke-width="0.5"/>
<path d="M393,605.0 L445,611.4 M396.6,602.4 L448.6,608.8" fill="none" stroke="#a0a0a4" stroke-width="0.7"/>
<path d="M402,598.6 L454,605.0 M405.6,596.0 L457.6,602.4" fill="none" stroke="#a0a0a4" stroke-width="0.7"/>
<path d="M411,592.2 L463,598.6 M414.6,589.6 L466.6,596.0" fill="none" stroke="#a0a0a4" stroke-width="0.7"/>
<path d="M420,585.8 L472,592.1999999999999 M423.6,583.1999999999999 L475.6,589.5999999999999" fill="none" stroke="#a0a0a4" stroke-width="0.7"/>
<path d="M364.4,594.7 V584.4 C364.4,581.0 369.8,581.0 369.8,584.4 V594.7 Z" fill="#ececec" stroke="#8a8a8e" stroke-width="0.5"/>
<path d="M377.3,596 V585.6 C377.3,582.2 382.7,582.2 382.7,585.6 V596 Z" fill="#ececec" stroke="#8a8a8e" stroke-width="0.5"/>
<path d="M401.7,577.8 V568.1 C401.7,564.7 407,564.7 407,568.1 V577.8 Z" fill="#ececec" stroke="#8a8a8e" stroke-width="0.5"/>
<path d="M412.5,578.4 V569.1 C412.5,565.7 418,565.7 418,569.1 V578.4 Z" fill="#ececec" stroke="#8a8a8e" stroke-width="0.5"/>
<ellipse cx="383.4" cy="588" rx="1.3" ry="2.2" fill="#5a5a5e"/>
<ellipse cx="418.8" cy="569.6" rx="1.3" ry="2.2" fill="#5a5a5e"/>
<rect x="337.2" y="544.6" width="4.6" height="27.6" fill="#f0f0f0"/>
<path d="M341,553.2 H349 C351.6,553.2 352,555 352,556.6 M341,562.2 H349 C351.6,562.2 352,560.6 352,559" fill="none" stroke="#f0f0f0" stroke-width="2.4"/>
<path d="M338.2,547 v2 M339.8,549 v2 M338.2,567 v2 M339.8,565.6 v2 M338.4,556 v3" fill="none" stroke="#555" stroke-width="0.8"/>
<path d="M347,557.6 C352,554.6 357,554 362,555.6 C366,552.4 374,551.6 379.4,554.4 C382.6,557 381,562 376,562.6 C370,563.6 364,561.6 359,559.6 C355,559 351,558.8 347,558.6" fill="none" stroke="#6e5226" stroke-width="5.6" stroke-linecap="round" stroke-linejoin="round"/>
<path d="M347,557.6 C352,554.6 357,554 362,555.6 C366,552.4 374,551.6 379.4,554.4 C382.6,557 381,562 376,562.6 C370,563.6 364,561.6 359,559.6 C355,559 351,558.8 347,558.6" fill="none" stroke="#c9a668" stroke-width="4" stroke-linecap="round" stroke-linejoin="round"/>
<path d="M368.6,561 L362.6,569.4" fill="none" stroke="#6e5226" stroke-width="3.4" stroke-linecap="round"/>
<path d="M368.6,561 L362.6,569.4" fill="none" stroke="#c9a668" stroke-width="2" stroke-linecap="round"/>
<path d="M347,557.6 C352,554.6 357,554 362,555.6 C366,552.4 374,551.6 379.4,554.4 C382.6,557 381,562 376,562.6 C370,563.6 364,561.6 359,559.6 C355,559 351,558.8 347,558.6" fill="none" stroke="#7a5c2c" stroke-width="3.6" stroke-dasharray="0.6 2.2"/>
</g>
<text x="323.4" y="513.6" font-size="5.9" class="w" textLength="43.7" lengthAdjust="spacingAndGlyphs">Accommodation</text>
<text x="323.4" y="521.1" font-size="5.9" class="w" textLength="36.8" lengthAdjust="spacingAndGlyphs">ladder should</text>
<text x="323.4" y="528.6" font-size="5.9" class="w" textLength="36.1" lengthAdjust="spacingAndGlyphs">be secured to</text>
<text x="323.4" y="536.1" font-size="5.9" class="w" textLength="27.4" lengthAdjust="spacingAndGlyphs">ship’s side</text>
<text x="323" y="582.8" font-size="5.9" class="w" textLength="39.5" lengthAdjust="spacingAndGlyphs">(Using eyepad,</text>
<text x="323" y="590" font-size="5.9" class="w" textLength="31.3" lengthAdjust="spacingAndGlyphs">magnetic or</text>
<text x="323" y="597.2" font-size="5.9" class="w" textLength="29" lengthAdjust="spacingAndGlyphs">pneumatic</text>
<text x="323" y="604.4" font-size="5.9" class="w" textLength="21.5" lengthAdjust="spacingAndGlyphs">system)</text>
</g>
</g>
</g>
<g id="panel3">
<clipPath id="c3"><rect x="466" y="104.5" width="224.9" height="331.2"/></clipPath>
<g clip-path="url(#c3)">
<rect x="466" y="129" width="226" height="1.1" fill="#242426"/>
<rect x="484.7" y="122.3" width="29.2" height="4.4" fill="#2a2a2c" rx="0.8"/>
<rect x="485.3" y="123.2" width="28" height="2.6" fill="#8db9dc" rx="0.4"/>
<rect x="528.4" y="122.3" width="29.5" height="4.4" fill="#2a2a2c" rx="0.8"/>
<rect x="529" y="123.2" width="28.3" height="2.6" fill="#8db9dc" rx="0.4"/>
<rect x="589.2" y="122.3" width="29.2" height="4.4" fill="#2a2a2c" rx="0.8"/>
<rect x="589.8" y="123.2" width="28" height="2.6" fill="#8db9dc" rx="0.4"/>
<rect x="633.4" y="122.3" width="29.2" height="4.4" fill="#2a2a2c" rx="0.8"/>
<rect x="634" y="123.2" width="28" height="2.6" fill="#8db9dc" rx="0.4"/>
<rect x="466" y="410.9" width="226" height="6.1" fill="#d4d4d6"/>
<rect x="466" y="416.9" width="226" height="9" fill="#ad402c"/>
<path d="M466,425.6 C474,423.6 480,427 488,425.4 C496,423.4 504,426.6 512,425.4 C520,423.6 528,427 538,425 C546,422.6 552,425.6 560,425.6 C570,425.6 576,422 586,424.4 C596,426.8 604,424 612,423.4 C622,422.6 630,426.8 640,425.6 C650,424.4 658,423.4 668,425.4 C676,426.8 684,425 692,424.4 L692,437 L466,437 Z" fill="#37697a"/>
<path d="M466,431.6 q8,-2.4 16,0 t16,0 t16,0 t16,0 t16,0 t16,0 t16,0 t16,0 t16,0 t16,0 t16,0 t16,0 t16,0 t16,0" fill="none" stroke="#2b5565" stroke-width="1.2"/>
<rect x="466" y="370" width="44.1" height="13.8" fill="#38383a"/>
<rect x="466" y="370" width="44.1" height="4.6" fill="#464648"/>
<rect x="466" y="382.4" width="44.1" height="1.4" fill="#242426"/>
<ellipse cx="509.6" cy="376.9" rx="1.8" ry="6.9" fill="#242426"/>
<rect x="683" y="370" width="9" height="13.8" fill="#38383a"/>
<ellipse cx="683.4" cy="376.9" rx="1.8" ry="6.9" fill="#242426"/>
<path d="M585.75,104 V271.5 L580.3,283.8 L585.75,296.3 V387 C585.75,395 592,399 600,401.6 C610,404.6 618,408.6 625,408 C634,407 640,402 642.4,396.6" fill="none" stroke="#86684a" stroke-width="2.6" stroke-linejoin="round"/>
<path d="M585.75,104 V271.5 L580.3,283.8 L585.75,296.3 V387 C585.75,395 592,399 600,401.6 C610,404.6 618,408.6 625,408 C634,407 640,402 642.4,396.6" fill="none" stroke="#c9a47c" stroke-width="1.5" stroke-linejoin="round"/>
<path d="M606.5,104 V271.5 L612.8,283.8 L606.5,296.3 V386 C608.0,391 609,394 606.4,397 C604,399.6 602,398 603.4,395.6" fill="none" stroke="#86684a" stroke-width="2.6" stroke-linejoin="round"/>
<path d="M606.5,104 V271.5 L612.8,283.8 L606.5,296.3 V386 C608.0,391 609,394 606.4,397 C604,399.6 602,398 603.4,395.6" fill="none" stroke="#c9a47c" stroke-width="1.5" stroke-linejoin="round"/>
<rect x="583.95" y="111" width="24.35" height="2" fill="#3e2a18"/>
<rect x="584.25" y="111.2" width="23.75" height="1.1" fill="#6e4c2c"/>
<rect x="583.95" y="139.5" width="24.35" height="2" fill="#3e2a18"/>
<rect x="584.25" y="139.7" width="23.75" height="1.1" fill="#6e4c2c"/>
<rect x="583.95" y="154" width="24.35" height="2" fill="#3e2a18"/>
<rect x="584.25" y="154.2" width="23.75" height="1.1" fill="#6e4c2c"/>
<rect x="583.95" y="176.5" width="24.35" height="2" fill="#3e2a18"/>
<rect x="584.25" y="176.7" width="23.75" height="1.1" fill="#6e4c2c"/>
<rect x="583.95" y="182.8" width="24.35" height="2" fill="#3e2a18"/>
<rect x="584.25" y="183" width="23.75" height="1.1" fill="#6e4c2c"/>
<rect x="583.95" y="225.3" width="24.35" height="2" fill="#3e2a18"/>
<rect x="584.25" y="225.5" width="23.75" height="1.1" fill="#6e4c2c"/>
<rect x="583.95" y="240.3" width="24.35" height="2" fill="#3e2a18"/>
<rect x="584.25" y="240.5" width="23.75" height="1.1" fill="#6e4c2c"/>
<rect x="583.95" y="254" width="24.35" height="2" fill="#3e2a18"/>
<rect x="584.25" y="254.2" width="23.75" height="1.1" fill="#6e4c2c"/>
<rect x="583.95" y="268.5" width="24.35" height="2" fill="#3e2a18"/>
<rect x="584.25" y="268.7" width="23.75" height="1.1" fill="#6e4c2c"/>
<rect x="583.95" y="296.5" width="24.35" height="2" fill="#3e2a18"/>
<rect x="584.25" y="296.7" width="23.75" height="1.1" fill="#6e4c2c"/>
<rect x="579.6" y="282.8" width="33.8" height="2" fill="#3e2a18"/>
<rect x="579.9" y="283" width="33.2" height="1.1" fill="#6e4c2c"/>
<path d="M584,214.8 L608.4,208.4" fill="none" stroke="#4a2f18" stroke-width="1.8"/>
<rect x="583.95" y="311.5" width="24.35" height="2" fill="#8a6a20"/>
<rect x="584.25" y="311.7" width="23.75" height="1.1" fill="#e0b84a"/>
<rect x="583.95" y="327.6" width="24.35" height="2" fill="#3e2a18"/>
<rect x="584.25" y="327.8" width="23.75" height="1.1" fill="#6e4c2c"/>
<rect x="558.5" y="196.3" width="75.5" height="1.5" fill="#3f2d1d"/>
<rect x="560.3" y="246.8" width="72.5" height="1.5" fill="#3f2d1d"/>
<rect x="574" y="324.8" width="60" height="1.9" fill="#3a2a1a"/>
<rect x="583.55" y="339.3" width="25.15" height="2.4" fill="#161616"/>
<rect x="583.55" y="353.8" width="25.15" height="2.4" fill="#161616"/>
<rect x="583.55" y="368.1" width="25.15" height="2.4" fill="#161616"/>
<rect x="583.55" y="382.1" width="25.15" height="2.4" fill="#161616"/>
<path d="M583.85,146 V149.6 C583.85,152.6 587.65,152.6 587.65,149.6 V146" fill="none" stroke="#e8e0d6" stroke-width="0.9"/>
<ellipse cx="585.75" cy="160.8" rx="2.3" ry="2.6" fill="#c9a47c" stroke="#86684a" stroke-width="0.5"/>
<path d="M604.6,146 V149.6 C604.6,152.6 608.4,152.6 608.4,149.6 V146" fill="none" stroke="#e8e0d6" stroke-width="0.9"/>
<ellipse cx="606.5" cy="160.8" rx="2.3" ry="2.6" fill="#c9a47c" stroke="#86684a" stroke-width="0.5"/>
<text x="507.8" y="141.3" font-size="9.8" class="w" textLength="17.1" lengthAdjust="spacingAndGlyphs">NO!</text>
<text x="507.8" y="148.2" font-size="5.7" class="w" textLength="32.5" lengthAdjust="spacingAndGlyphs">No shackles,</text>
<text x="507.8" y="155.7" font-size="5.7" class="w" textLength="40.5" lengthAdjust="spacingAndGlyphs">knots or splices</text>
<line x1="550.3" y1="153.7" x2="581.3" y2="150.1" stroke="#fff" stroke-width="0.8" marker-end="url(#aw)"/>
<line x1="550.3" y1="154" x2="581.3" y2="160.4" stroke="#fff" stroke-width="0.8" marker-end="url(#aw)"/>
<text x="507.8" y="171.3" font-size="9.8" class="w" textLength="17.1" lengthAdjust="spacingAndGlyphs">NO!</text>
<text x="507.8" y="178.2" font-size="5.7" class="w" textLength="47.5" lengthAdjust="spacingAndGlyphs">The steps must be</text>
<text x="507.8" y="185.7" font-size="5.7" class="w" textLength="38.7" lengthAdjust="spacingAndGlyphs">equally spaced</text>
<line x1="557.8" y1="177.5" x2="582.6" y2="178.6" stroke="#fff" stroke-width="0.8" marker-end="url(#aw)"/>
<line x1="557.8" y1="177.7" x2="582.6" y2="183.6" stroke="#fff" stroke-width="0.8" marker-end="url(#aw)"/>
<text x="507.8" y="201.8" font-size="9.8" class="w" textLength="17.1" lengthAdjust="spacingAndGlyphs">NO!</text>
<text x="507.8" y="208.7" font-size="5.7" class="w" textLength="47.5" lengthAdjust="spacingAndGlyphs">The steps must be</text>
<text x="507.8" y="216.2" font-size="5.7" class="w" textLength="57.5" lengthAdjust="spacingAndGlyphs">horizontal and chocks</text>
<text x="507.8" y="223.7" font-size="5.7" class="w" textLength="63.7" lengthAdjust="spacingAndGlyphs">under the steps must be</text>
<text x="507.8" y="231.2" font-size="5.7" class="w" textLength="39.5" lengthAdjust="spacingAndGlyphs">tightly secured</text>
<line x1="566.5" y1="215" x2="582.2" y2="215" stroke="#fff" stroke-width="0.8" marker-end="url(#aw)"/>
<text x="507.8" y="247.6" font-size="9.8" class="w" textLength="17.1" lengthAdjust="spacingAndGlyphs">NO!</text>
<text x="507.8" y="254.5" font-size="5.7" class="w" textLength="40.5" lengthAdjust="spacingAndGlyphs">Spreaders must</text>
<text x="507.8" y="262" font-size="5.7" class="w" textLength="35.7" lengthAdjust="spacingAndGlyphs">not be lashed</text>
<text x="507.8" y="269.5" font-size="5.7" class="w" textLength="38.2" lengthAdjust="spacingAndGlyphs">between steps</text>
<line x1="550.3" y1="253.6" x2="575.2" y2="248.1" stroke="#fff" stroke-width="0.8" marker-end="url(#aw)"/>
<text x="507.8" y="286.3" font-size="9.8" class="w" textLength="17.1" lengthAdjust="spacingAndGlyphs">NO!</text>
<text x="507.8" y="293.2" font-size="5.7" class="w" textLength="42" lengthAdjust="spacingAndGlyphs">Side ropes must</text>
<text x="507.8" y="300.9" font-size="5.7" class="w" textLength="46.7" lengthAdjust="spacingAndGlyphs">be equally spaced</text>
<line x1="551.5" y1="290.7" x2="580.6" y2="284.6" stroke="#fff" stroke-width="0.8" marker-end="url(#aw)"/>
<text x="507.8" y="316.8" font-size="9.8" class="w" textLength="17.1" lengthAdjust="spacingAndGlyphs">NO!</text>
<text x="507.8" y="323.7" font-size="5.7" class="w" textLength="44.2" lengthAdjust="spacingAndGlyphs">The steps should</text>
<text x="507.8" y="331.2" font-size="5.7" class="w" textLength="38.7" lengthAdjust="spacingAndGlyphs">not be painted,</text>
<text x="507.8" y="338.7" font-size="5.7" class="w" textLength="42" lengthAdjust="spacingAndGlyphs">dirty or slippery</text>
<line x1="553.5" y1="322.4" x2="582.2" y2="313.3" stroke="#fff" stroke-width="0.8" marker-end="url(#aw)"/>
<line x1="547.8" y1="330" x2="574.6" y2="326.3" stroke="#fff" stroke-width="0.8" marker-end="url(#aw)"/>
<text x="527.3" y="363.3" font-size="9.8" class="w" textLength="17.1" lengthAdjust="spacingAndGlyphs">NO!</text>
<text x="527.3" y="370.2" font-size="5.7" class="w" textLength="48.7" lengthAdjust="spacingAndGlyphs">Loops and tripping</text>
<text x="527.3" y="377.65" font-size="5.7" class="w" textLength="38" lengthAdjust="spacingAndGlyphs">lines present a</text>
<text x="527.3" y="385.1" font-size="5.7" class="w" textLength="39.7" lengthAdjust="spacingAndGlyphs">tripping hazard</text>
<text x="527.3" y="392.55" font-size="5.7" class="w" textLength="31.7" lengthAdjust="spacingAndGlyphs">and foul the</text>
<text x="527.3" y="400" font-size="5.7" class="w" textLength="32.2" lengthAdjust="spacingAndGlyphs">Pilot Launch</text>
<line x1="561" y1="391.6" x2="583.8" y2="388.8" stroke="#fff" stroke-width="0.8" marker-end="url(#aw)"/>
<line x1="561" y1="392" x2="616.4" y2="402.4" stroke="#fff" stroke-width="0.8" marker-end="url(#aw)"/>
</g>
</g>
<g id="panel3b">
<clipPath id="c3b"><rect x="466" y="444" width="224.9" height="180.8"/></clipPath>
<g clip-path="url(#c3b)">
<path d="M465,626 L465,614.4 L692,522.2 L692,626 Z" fill="#3e8e64"/>
<path d="M465,560.1 L692,499.7 L692,522.2 L465,614.4 Z" fill="#3b3b3e"/>
<path d="M465,545.6 L692,490.8 L692,496.3 L465,556.1 Z" fill="#74767a"/>
<path d="M465,555.7 L692,495.9 L692,500.3 L465,560.7 Z" fill="#29292b"/>
<path d="M465,545.1 L692,490.3 L692,491.3 L465,546.1 Z" fill="#3a3a3d"/>
<path d="M465,560.1 L474,557.7 L474,618.6 L465,619.6 Z" fill="#222224"/>
<path d="M512.6,547.4 L517,546.2 L517,600 L512.6,601 Z" fill="#222224"/>
<path d="M613.9,467.0 A4.6,5.1 0 0 0 613.9,473.8" fill="none" stroke="#33465e" stroke-width="0.8"/>
<path d="M622.1,467.0 A4.6,5.1 0 0 1 622.1,473.8" fill="none" stroke="#33465e" stroke-width="0.8"/>
<path d="M611.2,464.3 A8.2,9.0 0 0 0 611.2,476.5" fill="none" stroke="#33465e" stroke-width="0.8"/>
<path d="M624.8,464.3 A8.2,9.0 0 0 1 624.8,476.5" fill="none" stroke="#33465e" stroke-width="0.8"/>
<path d="M608.5,461.7 A11.8,13.0 0 0 0 608.5,479.1" fill="none" stroke="#33465e" stroke-width="0.8"/>
<path d="M627.5,461.7 A11.8,13.0 0 0 1 627.5,479.1" fill="none" stroke="#33465e" stroke-width="0.8"/>
<path d="M524.6,469.6 L505.6,534" fill="none" stroke="#6e5536" stroke-width="3.1" stroke-linecap="round"/>
<path d="M524.6,469.6 L505.6,534" fill="none" stroke="#bfa074" stroke-width="1.8" stroke-linecap="round"/>
<path d="M559.2,466 L550,540" fill="none" stroke="#6e5536" stroke-width="3.1" stroke-linecap="round"/>
<path d="M559.2,466 L550,540" fill="none" stroke="#bfa074" stroke-width="1.8" stroke-linecap="round"/>
<g id="crew2">
<path d="M508.6,520 C510,510 516,503.6 524,502.4 L536,500.6 L546,494 L553.6,486 L557.4,489.6 L551,500.6 L542,509 L540,538 L516,541 L509.6,532 Z" fill="#23478a" stroke="#0e1f3c" stroke-width="0.6"/>
<path d="M519.4,505 L526,503.6 L529,514 L534.6,503 L540,503.6 L539.6,537.6 L520.6,540.6 Z" fill="#ec5d2a" stroke="#6a2410" stroke-width="0.5"/>
<path d="M529,514 V539 M526,520 h6 M526,526 h6 M526,532 h6" fill="none" stroke="#6a2410" stroke-width="0.6"/>
<ellipse cx="532" cy="492.6" rx="5.2" ry="6.2" fill="#a8714a"/>
<path d="M525.4,490.6 C525,484 533,480.6 538.4,484.6 L543,489.4 L537,490 C533,489 529,489.6 525.4,490.6 Z" fill="#23478a" stroke="#0e1f3c" stroke-width="0.5"/>
<path d="M552,487 C551,483 553.6,480.6 556.6,481.6 C559,482.6 559.6,486 558,489 Z" fill="#a8714a"/>
</g>
<path d="M504.6,536.4 L580,524.6 L590,528.6 L530,542.6 Z" fill="#77797d" stroke="#2a2a2c" stroke-width="0.5"/>
<path d="M504.6,536.4 L530,542.6 L530,545.4 L504.6,539 Z" fill="#2a2a2c"/>
<rect x="523.9" y="469.8" width="2.8" height="124" fill="#f4f4f4" stroke="#8a8a8e" stroke-width="0.4"/>
<rect x="557.8" y="465.4" width="2.8" height="88" fill="#f4f4f4" stroke="#8a8a8e" stroke-width="0.4"/>
<ellipse cx="525.3" cy="594" rx="4.4" ry="1.8" fill="#e8e8ea" stroke="#555" stroke-width="0.5"/>
<path d="M576.4,529 L585.4,526.6 L622,580 L614,584.6 Z" fill="#f0c63a" stroke="#7a5a10" stroke-width="0.5"/>
<path d="M548,551.6 L590,543 L591.4,547.4 L550,556.6 Z" fill="#f0c63a" stroke="#7a5a10" stroke-width="0.4"/>
<path d="M550,556.6 L591.4,547.4 L591.4,549.4 L550,558.6 Z" fill="#d3a228"/>
<path d="M557,565.6 L600,556.6 L601.4,561.0 L559,570.6 Z" fill="#f0c63a" stroke="#7a5a10" stroke-width="0.4"/>
<path d="M559,570.6 L601.4,561.0 L601.4,563.0 L559,572.6 Z" fill="#d3a228"/>
<path d="M566,579.6 L610,570.4 L611.4,574.8 L568,584.6 Z" fill="#f0c63a" stroke="#7a5a10" stroke-width="0.4"/>
<path d="M568,584.6 L611.4,574.8 L611.4,576.8 L568,586.6 Z" fill="#d3a228"/>
<path d="M574,593 L616,583 L617.4,587.4 L576,598 Z" fill="#f0c63a" stroke="#7a5a10" stroke-width="0.4"/>
<path d="M576,598 L617.4,587.4 L617.4,589.4 L576,600 Z" fill="#d3a228"/>
<path d="M528.7,542 L542.6,539 L582,599.4 L572,604.6 Z" fill="#f0c63a" stroke="#7a5a10" stroke-width="0.5"/>
<path d="M528.7,542 L533.4,541 L576.4,602.4 L572,604.6 Z" fill="#d3a228"/>
<path d="M571,604.6 L582,599.4 L589,605 L575,609.6 Z" fill="#e8e8ea" stroke="#555" stroke-width="0.5"/>
<path d="M614,584.6 L622,580 L629,584.6 L617,588.6 Z" fill="#e8e8ea" stroke="#555" stroke-width="0.5"/>
<ellipse cx="580" cy="609" rx="9" ry="1.8" fill="#1e2a24"/>
<ellipse cx="622" cy="588.6" rx="8" ry="1.6" fill="#1e2a24"/>
<path d="M525.6,470 L575,547 L609.7,606.4" fill="none" stroke="#6e5536" stroke-width="3.1" stroke-linecap="round"/>
<path d="M525.6,470 L575,547 L609.7,606.4" fill="none" stroke="#bfa074" stroke-width="1.8" stroke-linecap="round"/>
<path d="M560.4,466 L598.7,520 L649.5,589.4" fill="none" stroke="#6e5536" stroke-width="3.1" stroke-linecap="round"/>
<path d="M560.4,466 L598.7,520 L649.5,589.4" fill="none" stroke="#bfa074" stroke-width="1.8" stroke-linecap="round"/>
<path d="M544,570 L543.6,584" fill="none" stroke="#6e5536" stroke-width="2.5" stroke-linecap="round"/>
<path d="M544,570 L543.6,584" fill="none" stroke="#bfa074" stroke-width="1.2" stroke-linecap="round"/>
<path d="M566,575 L556,596" fill="none" stroke="#6e5536" stroke-width="2.5" stroke-linecap="round"/>
<path d="M566,575 L556,596" fill="none" stroke="#bfa074" stroke-width="1.2" stroke-linecap="round"/>
<ellipse cx="543.5" cy="590.4" rx="5.4" ry="1.8" fill="#1e2a24"/>
<ellipse cx="543.5" cy="587" rx="2.6" ry="3.2" fill="none" stroke="#e8e8ea" stroke-width="1.4"/>
<ellipse cx="555" cy="602.0" rx="5.4" ry="1.8" fill="#1e2a24"/>
<ellipse cx="555" cy="598.6" rx="2.6" ry="3.2" fill="none" stroke="#e8e8ea" stroke-width="1.4"/>
<ellipse cx="610.4" cy="614.4" rx="5.4" ry="1.8" fill="#1e2a24"/>
<ellipse cx="610.4" cy="611" rx="2.6" ry="3.2" fill="none" stroke="#e8e8ea" stroke-width="1.4"/>
<ellipse cx="650.4" cy="595.0" rx="5.4" ry="1.8" fill="#1e2a24"/>
<ellipse cx="650.4" cy="591.6" rx="2.6" ry="3.2" fill="none" stroke="#e8e8ea" stroke-width="1.4"/>
<ellipse cx="494" cy="581.8" rx="15.6" ry="19.4" fill="none" stroke="#5a1d0c" stroke-width="10.4"/>
<ellipse cx="494" cy="581.8" rx="15.6" ry="19.4" fill="none" stroke="#ee5a26" stroke-width="9.2"/>
<ellipse cx="494" cy="581.8" rx="15.6" ry="19.4" fill="none" stroke="#f4f4f4" stroke-width="9.2" stroke-dasharray="7 20.6" stroke-dashoffset="-10"/>
<path d="M494,562.6 L494,575 M491.6,575.6 C491.6,581 490.6,584.6 490,587.4 H498 C497.4,584.6 496.4,581 496.4,575.6 Z" fill="#e9a23c" stroke="#4a3a1a" stroke-width="0.7"/>
<g id="officer">
<path d="M632.6,523 L653.6,521.6 L657,552 L659.6,583 L650.6,584.6 L645.6,553 L642,581 L633.6,581.6 L631.6,552 Z" fill="#f1f1f1" stroke="#77777b" stroke-width="0.5"/>
<path d="M629,491 C632,487.6 650,486.6 655.6,489.6 L661.6,503 L662.6,530 L658.6,531.6 L655.6,512 L654.6,523 L632,524.6 L631,506 L625.6,508 L620.4,499 L623.6,495.4 Z" fill="#f1f1f1" stroke="#77777b" stroke-width="0.5"/>
<path d="M631.4,490.6 L638,487.6 L641.6,497 L647.6,487.2 L653.6,489 L654,522.4 L631.4,523.4 Z" fill="#ec5d2a" stroke="#6a2410" stroke-width="0.5"/>
<path d="M641.6,497 V522.6 M638.6,502 h6 M638.6,508 h6 M638.6,514 h6" fill="none" stroke="#6a2410" stroke-width="0.6"/>
<ellipse cx="644" cy="481.6" rx="5" ry="6.4" fill="#a8714a"/>
<path d="M637.6,478 C637,470.6 647,467.2 652.6,471.6 C655,473.6 655.6,477 655,480 L649,478.4 L634,480 Z" fill="#f39a2c" stroke="#7a4a10" stroke-width="0.5"/>
<rect x="620" y="487.2" width="5" height="12" fill="#1a1a1c" rx="1.2"/>
<path d="M621.6,487.2 L617.2,469.6" fill="none" stroke="#1a1a1c" stroke-width="0.9"/>
<path d="M632.6,580.6 C630.6,581.6 628.6,584.6 629.6,587 L640.6,587 L641,582 Z M650.6,584 C650.6,586 651.6,589.6 654.6,590.6 L662,590.4 L660,584 Z" fill="#1a1a1c"/>
<path d="M656,531 C658,536 661.6,536 662.6,530.6 Z" fill="#a8714a"/>
</g>
<ellipse cx="667.6" cy="564.6" rx="13.0" ry="3.8" fill="#9a7a50" stroke="#5a4426" stroke-width="0.6"/>
<ellipse cx="667.6" cy="562.2" rx="12.2" ry="3.5999999999999996" fill="#9a7a50" stroke="#5a4426" stroke-width="0.6"/>
<ellipse cx="667.6" cy="559.8000000000001" rx="11.4" ry="3.4" fill="#9a7a50" stroke="#5a4426" stroke-width="0.6"/>
<ellipse cx="667.6" cy="557.4" rx="10.6" ry="3.1999999999999997" fill="#9a7a50" stroke="#5a4426" stroke-width="0.6"/>
<text x="507.8" y="451.6" font-size="5.7" class="d" textLength="53.7" lengthAdjust="spacingAndGlyphs">Handhold stanchions</text>
<text x="507.8" y="458.8" font-size="5.7" class="d" textLength="57.5" lengthAdjust="spacingAndGlyphs">rigidly secured to deck</text>
<text x="591" y="451.6" font-size="5.7" class="d" textLength="50" lengthAdjust="spacingAndGlyphs">Responsible Officer</text>
<text x="591" y="458.8" font-size="5.7" class="d" textLength="56.8" lengthAdjust="spacingAndGlyphs">in contact with bridge</text>
<line x1="534" y1="460.8" x2="527.9" y2="469.8" stroke="#10233a" stroke-width="0.7" marker-end="url(#ak)"/>
<line x1="534" y1="460.8" x2="557.6" y2="476" stroke="#10233a" stroke-width="0.7" marker-end="url(#ak)"/>
<line x1="629.2" y1="460.4" x2="640" y2="471" stroke="#10233a" stroke-width="0.7" marker-end="url(#ak)"/>
<text x="488" y="612.9" font-size="5.7" class="w" textLength="34.7" lengthAdjust="spacingAndGlyphs">Lifebuoy with</text>
<text x="488" y="620" font-size="5.7" class="w" textLength="43.7" lengthAdjust="spacingAndGlyphs">self-igniting light</text>
<line x1="501.5" y1="608.6" x2="492.8" y2="592.8" stroke="#fff" stroke-width="0.8"/>
<text x="624.1" y="606" font-size="5.7" class="w" textLength="57.6" lengthAdjust="spacingAndGlyphs">Bulwark &amp; Pilot ladder</text>
<text x="624.1" y="613.5" font-size="5.7" class="w" textLength="39.9" lengthAdjust="spacingAndGlyphs">secured to deck</text>
<text x="624.1" y="620.4" font-size="5.7" class="w" textLength="34.7" lengthAdjust="spacingAndGlyphs">strong points</text>
<line x1="623.3" y1="601.3" x2="601.3" y2="582.7" stroke="#fff" stroke-width="0.8"/>
</g>
</g>
<g id="panelA">
<clipPath id="cA"><rect x="698.9" y="104.5" width="224.7" height="189.7"/></clipPath>
<g clip-path="url(#cA)">
<rect x="698.9" y="239.8" width="225" height="30.2" fill="#e6e6e8"/>
<rect x="698.9" y="270" width="225" height="25" fill="#4a4a4c"/>
<rect x="698.9" y="270" width="225" height="6" fill="#434345"/>
<rect x="698.9" y="275.9" width="225" height="1.3" fill="#1e1e20"/>
<path d="M768.3,239.4 L839,239.4 L814.8,270.2 L740,270.2 Z" fill="#929496"/>
<path d="M768.3,143.8 H839 V239.6 H768.3 Z" fill="#000" opacity="0.03"/>
<path d="M739,167.5 H814.8 V270 H739 Z" fill="#000" opacity="0.03"/>
<line x1="777.8" y1="186.3" x2="860.3" y2="186.3" stroke="#1c1c1e" stroke-width="0.9" stroke-dasharray="1.8 1.4"/>
<line x1="779" y1="250.8" x2="859" y2="250.8" stroke="#1c1c1e" stroke-width="0.9" stroke-dasharray="1.8 1.4"/>
<path d="M777.3,184 V243 L762.6,270 V295" fill="none" stroke="#a3907c" stroke-width="3.5" stroke-linejoin="round"/>
<path d="M777.3,184 V243 L762.6,270 V295" fill="none" stroke="#b9a48e" stroke-width="2.5" stroke-linejoin="round"/>
<path d="M806.4,184 V243 L783,270 V295" fill="none" stroke="#a3907c" stroke-width="3.5" stroke-linejoin="round"/>
<path d="M806.4,184 V243 L783,270 V295" fill="none" stroke="#b9a48e" stroke-width="2.5" stroke-linejoin="round"/>
<ellipse cx="772.8" cy="169.4" rx="6" ry="16.8" fill="#f3f3f3" stroke="#77777b" stroke-width="0.6"/>
<ellipse cx="775.4" cy="169.4" rx="5" ry="15.6" fill="#e2e2e4" stroke="#8a8a8e" stroke-width="0.5"/>
<rect x="777.8" y="157.5" width="31.2" height="26.3" fill="#f6f6f6"/>
<rect x="777.8" y="157.5" width="31.2" height="3" fill="#d8d8da"/>
<rect x="777.8" y="180.6" width="31.2" height="3.2" fill="#c9c9cc"/>
<ellipse cx="812.6" cy="169.4" rx="6" ry="16.8" fill="#f3f3f3" stroke="#77777b" stroke-width="0.6"/>
<ellipse cx="814.6" cy="169.4" rx="4.6" ry="14.6" fill="#d6d6d8" stroke="#6a6a6e" stroke-width="0.5"/>
<path d="M815,169 L825.6,159 L827,162 Z M815,169 L828,167 L827.6,170.4 Z M815,169 L825,176 L822.6,178.6 Z M815,169 L821,153.6 L823.6,155.6 Z" fill="#f3f3f3" stroke="#55555a" stroke-width="0.5"/>
<path d="M768.3,143.8 H839 V239.6 H768.3 Z M739,167.5 H814.8 V270 H739 Z M768.3,143.8 L739,167.5 M839,143.8 L814.8,167.5 M839,239.6 L814.8,270 M768.3,239.6 L739,270" fill="none" stroke="#2a2a2c" stroke-width="0.6"/>
<path d="M774.0,247.6 L776.6,242.4 L779.2,247.6 Z" fill="#e8e8ea" stroke="#333" stroke-width="0.6"/>
<circle cx="776.6" cy="245.6" r="0.9" fill="#333"/>
<path d="M802.1999999999999,247.6 L804.8,242.4 L807.4,247.6 Z" fill="#e8e8ea" stroke="#333" stroke-width="0.6"/>
<circle cx="804.8" cy="245.6" r="0.9" fill="#333"/>
<rect x="757.4" y="223" width="2.2" height="45" fill="#f6f6f6" stroke="#66666a" stroke-width="0.4"/>
<ellipse cx="758.5" cy="268.4" rx="2.6" ry="1.1" fill="#ddd" stroke="#444" stroke-width="0.4"/>
<rect x="790.4" y="223" width="2.2" height="45" fill="#f6f6f6" stroke="#66666a" stroke-width="0.4"/>
<ellipse cx="791.5" cy="268.4" rx="2.6" ry="1.1" fill="#ddd" stroke="#444" stroke-width="0.4"/>
<path d="M736,202.5 H774 V211.8 M758.5,221 V211.8 H791.5 V221" fill="none" stroke="#111" stroke-width="0.8"/>
<path d="M757,219.4 L758.5,223 L760,219.4 Z M790,219.4 L791.5,223 L793,219.4 Z" fill="#111"/>
<text x="707" y="200.8" font-size="5.7" class="k" textLength="27.8" lengthAdjust="spacingAndGlyphs">Handholds</text>
<text x="707" y="208.3" font-size="5.7" class="k" textLength="27" lengthAdjust="spacingAndGlyphs">Min. 70cm</text>
<text x="707" y="215.8" font-size="5.7" class="k" textLength="28.3" lengthAdjust="spacingAndGlyphs">Max. 80cm</text>
<line x1="854.5" y1="201.6" x2="854.5" y2="187" stroke="#111" stroke-width="0.8" marker-end="url(#ab)"/>
<line x1="854.5" y1="226.6" x2="854.5" y2="250" stroke="#111" stroke-width="0.8" marker-end="url(#ab)"/>
<text x="847" y="208.8" font-size="5.7" class="k" textLength="25" lengthAdjust="spacingAndGlyphs">Minimum</text>
<text x="847" y="216.3" font-size="5.7" class="k" textLength="25.8" lengthAdjust="spacingAndGlyphs">Clearance</text>
<text x="847" y="223.8" font-size="5.7" class="k" textLength="17.8" lengthAdjust="spacingAndGlyphs">220cm</text>
<text x="816.5" y="226.8" font-size="5.4" class="k" textLength="20" lengthAdjust="spacingAndGlyphs">Pad eye</text>
<line x1="816" y1="228.8" x2="780.4" y2="241.2" stroke="#111" stroke-width="0.7" marker-end="url(#ab)"/>
<line x1="824" y1="229.4" x2="807.9" y2="241.2" stroke="#111" stroke-width="0.7" marker-end="url(#ab)"/>
<text x="881" y="248.8" font-size="7.6" class="k" textLength="11.8" lengthAdjust="spacingAndGlyphs">NO</text>
<text x="860.3" y="258.1" font-size="7.6" class="k" textLength="53.2" lengthAdjust="spacingAndGlyphs">OBSTRUCTIONS</text>
<text x="835.8" y="265.1" font-size="5.6" class="k" textLength="31.2" lengthAdjust="spacingAndGlyphs">Min. 91.5cm</text>
<line x1="840.3" y1="251.4" x2="827.8" y2="268.6" stroke="#333" stroke-width="0.8" marker-end="url(#ab)" marker-start="url(#ab)"/>
<line x1="740.4" y1="281.3" x2="813.8" y2="281.3" stroke="#fff" stroke-width="0.8" marker-end="url(#aw)" marker-start="url(#aw)"/>
<rect x="759" y="275" width="26.4" height="2.8" fill="#4a2f18" rx="1"/>
<rect x="759.4" y="275.4" width="25.6" height="1.4" fill="#8d5c32" rx="0.8"/>
<rect x="759" y="284.4" width="26.4" height="2.8" fill="#4a2f18" rx="1"/>
<rect x="759.4" y="284.8" width="25.6" height="1.4" fill="#8d5c32" rx="0.8"/>
<rect x="759" y="292" width="26.4" height="2.8" fill="#4a2f18" rx="1"/>
<rect x="759.4" y="292.4" width="25.6" height="1.4" fill="#8d5c32" rx="0.8"/>
<path d="M794,281.3 V288.8 H825.3" fill="none" stroke="#fff" stroke-width="0.8"/>
<text x="826.5" y="291.3" font-size="5.6" class="w" textLength="31.8" lengthAdjust="spacingAndGlyphs">Min. 91.5cm</text>
<rect x="704" y="110" width="11.8" height="11.4" fill="#ffffff"/>
<text x="709.9" y="119.2" font-size="9.4" font-weight="bold" fill="#111" text-anchor="middle">A</text>
<text x="725.3" y="135.6" font-size="14.2" class="k" textLength="177.5" lengthAdjust="spacingAndGlyphs">PILOT LADDER WINCH REEL</text>
</g>
</g>
<g id="panelB">
<clipPath id="cB"><rect x="698.9" y="302" width="224.7" height="157.7"/></clipPath>
<g clip-path="url(#cB)">
<rect x="752" y="302" width="53.8" height="119.4" fill="#e6e6e8"/>
<rect x="752" y="302" width="53.8" height="41.3" fill="#8e9091"/>
<rect x="766.5" y="338" width="27.5" height="5.3" fill="#77787a"/>
<rect x="751" y="421" width="55.6" height="2.2" fill="#1a1a1c"/>
<rect x="765.3" y="313.8" width="27.5" height="25" fill="#f1f1f1"/>
<rect x="765.3" y="313.8" width="27.5" height="2.6" fill="#d4d4d6"/>
<ellipse cx="760" cy="325.6" rx="5.6" ry="16.8" fill="#f4f4f4" stroke="#77777b" stroke-width="0.6"/>
<ellipse cx="762.4" cy="325.6" rx="4" ry="14.6" fill="#dcdcde" stroke="#8a8a8e" stroke-width="0.5"/>
<ellipse cx="799" cy="325.6" rx="6.6" ry="16.8" fill="#f4f4f4" stroke="#77777b" stroke-width="0.6"/>
<ellipse cx="800.8" cy="325.6" rx="4.6" ry="13.6" fill="#d2d2d4" stroke="#6a6a6e" stroke-width="0.5"/>
<path d="M801,325.6 L806,318 M801,325.6 L806,331 M801,325.6 L805.8,324.6" fill="none" stroke="#55555a" stroke-width="0.8"/>
<rect x="759.2" y="377.5" width="2.2" height="43.6" fill="#f2f2f2" stroke="#77777b" stroke-width="0.4"/>
<rect x="796.7" y="377.5" width="2.2" height="43.6" fill="#f2f2f2" stroke="#77777b" stroke-width="0.4"/>
<path d="M764,310 V459" fill="none" stroke="#8a6a44" stroke-width="2.3" stroke-linejoin="round"/>
<path d="M764,310 V459" fill="none" stroke="#c9a377" stroke-width="1.3" stroke-linejoin="round"/>
<path d="M792.3,310 V459" fill="none" stroke="#8a6a44" stroke-width="2.3" stroke-linejoin="round"/>
<path d="M792.3,310 V459" fill="none" stroke="#c9a377" stroke-width="1.3" stroke-linejoin="round"/>
<rect x="759.5" y="427.6" width="36.9" height="4" fill="#4a2f18" rx="1"/>
<rect x="759.9" y="428" width="36.1" height="2.6" fill="#8d5c32" rx="0.8"/>
<rect x="759.5" y="447.4" width="36.9" height="4" fill="#4a2f18" rx="1"/>
<rect x="759.9" y="447.8" width="36.1" height="2.6" fill="#8d5c32" rx="0.8"/>
<text x="778.2" y="371.8" font-size="5" class="k" textLength="22.5" lengthAdjust="spacingAndGlyphs" text-anchor="middle">Handholds</text>
<text x="778.2" y="378.4" font-size="5" class="k" textLength="22" lengthAdjust="spacingAndGlyphs" text-anchor="middle">Min. 70cm</text>
<text x="778.2" y="385" font-size="5" class="k" textLength="22.5" lengthAdjust="spacingAndGlyphs" text-anchor="middle">Max. 80cm</text>
<line x1="762.8" y1="389.2" x2="796.4" y2="389.2" stroke="#111" stroke-width="0.8" marker-end="url(#ab)" marker-start="url(#ab)"/>
<path d="M724,358.8 V341.3 H746" fill="none" stroke="#fff" stroke-width="0.8"/>
<path d="M724,383.8 V423 H746" fill="none" stroke="#fff" stroke-width="0.8"/>
<path d="M745.6,339.5 L750,341.3 L745.6,343.1 Z M745.6,421.2 L750,423 L745.6,424.8 Z" fill="#fff"/>
<text x="712.8" y="365.8" font-size="5.7" class="w" textLength="25.5" lengthAdjust="spacingAndGlyphs">Minimum</text>
<text x="712.8" y="373.3" font-size="5.7" class="w" textLength="25.7" lengthAdjust="spacingAndGlyphs">Clearance</text>
<text x="712.8" y="380.8" font-size="5.7" class="w" textLength="18" lengthAdjust="spacingAndGlyphs">220cm</text>
<path d="M753.3,427.6 V435 H803.3 V427.6 M779,435 V440 H742" fill="none" stroke="#fff" stroke-width="0.8"/>
<path d="M751.7,428.6 L753.3,424.8 L754.9,428.6 Z M801.7,428.6 L803.3,424.8 L804.9,428.6 Z" fill="#fff"/>
<text x="714.5" y="440.8" font-size="5.7" class="w" textLength="25" lengthAdjust="spacingAndGlyphs">Minimum</text>
<text x="714.5" y="448.3" font-size="5.7" class="w" textLength="19.5" lengthAdjust="spacingAndGlyphs">91.5cm</text>
<text x="817" y="342.6" font-size="5.7" class="w" textLength="89.5" lengthAdjust="spacingAndGlyphs">All pilot ladder winch reels should</text>
<text x="817" y="350.1" font-size="5.7" class="w" textLength="87" lengthAdjust="spacingAndGlyphs">have a means of prevention from</text>
<text x="817" y="357.6" font-size="5.7" class="w" textLength="74.5" lengthAdjust="spacingAndGlyphs">being accidentally operated.</text>
<text x="817" y="372.1" font-size="5.7" class="w" textLength="72" lengthAdjust="spacingAndGlyphs">The brake and lock must be</text>
<text x="817" y="379.6" font-size="5.7" class="w" textLength="84.5" lengthAdjust="spacingAndGlyphs">operative on manually operated</text>
<text x="817" y="387.1" font-size="5.7" class="w" textLength="22.5" lengthAdjust="spacingAndGlyphs">winches.</text>
<text x="817" y="401.8" font-size="5.7" class="w" textLength="76.3" lengthAdjust="spacingAndGlyphs">Power winches must have an</text>
<text x="817" y="409.3" font-size="5.7" class="w" textLength="80.8" lengthAdjust="spacingAndGlyphs">operative safety device to lock</text>
<text x="817" y="416.8" font-size="5.7" class="w" textLength="57" lengthAdjust="spacingAndGlyphs">the winch in position.</text>
<rect x="704" y="307.2" width="11.8" height="11.4" fill="#ffffff"/>
<text x="709.9" y="316.4" font-size="9.4" font-weight="bold" fill="#111" text-anchor="middle">B</text>
</g>
</g>
<g id="panelC">
<clipPath id="cC"><rect x="698.9" y="467.7" width="224.7" height="157.1"/></clipPath>
<g clip-path="url(#cC)">
<rect x="770.3" y="488.5" width="45.5" height="81.4" fill="#e6e6e8"/>
<rect x="769" y="569.6" width="48" height="1.8" fill="#1a1a1c"/>
<path d="M770,571.2 L808,571.2 L799.6,578.2 L770,578.2 Z" fill="#7e8082" stroke="#333" stroke-width="0.5"/>
<rect x="772.4" y="524" width="2.2" height="48.6" fill="#dcdcde" stroke="#6a6a6e" stroke-width="0.5"/>
<rect x="809.9" y="524" width="2.2" height="48.6" fill="#dcdcde" stroke="#6a6a6e" stroke-width="0.5"/>
<path d="M777.8,571.4 V534.6 H793.6 C796,534.6 797,535.8 797,538 V571.4" fill="none" stroke="#6a6a6e" stroke-width="2.6"/>
<path d="M777.8,571.4 V534.6 H793.6 C796,534.6 797,535.8 797,538 V571.4" fill="none" stroke="#d2d2d4" stroke-width="1.5"/>
<text x="778.5" y="508.3" font-size="5.9" class="k" textLength="28.5" lengthAdjust="spacingAndGlyphs">Handholds</text>
<text x="779.5" y="515.8" font-size="5.9" class="k" textLength="27" lengthAdjust="spacingAndGlyphs">Min. 70cm</text>
<text x="778.5" y="523.3" font-size="5.9" class="k" textLength="28.5" lengthAdjust="spacingAndGlyphs">Max. 80cm</text>
<line x1="775.6" y1="528.3" x2="811.2" y2="528.3" stroke="#111" stroke-width="0.9" marker-end="url(#ab)" marker-start="url(#ab)"/>
<text x="774.5" y="484.6" font-size="5.7" class="w" textLength="33.8" lengthAdjust="spacingAndGlyphs">Side opening</text>
<path d="M744,505.3 V488.3 H759" fill="none" stroke="#fff" stroke-width="0.8"/>
<path d="M744,530.3 V569.8 H759" fill="none" stroke="#fff" stroke-width="0.8"/>
<path d="M758.6,486.5 L763,488.3 L758.6,490.1 Z M758.6,568 L763,569.8 L758.6,571.6 Z" fill="#fff"/>
<text x="732.8" y="511.6" font-size="5.7" class="w" textLength="25" lengthAdjust="spacingAndGlyphs">Minimum</text>
<text x="732.8" y="519.1" font-size="5.7" class="w" textLength="25.7" lengthAdjust="spacingAndGlyphs">Clearance</text>
<text x="732.8" y="526.6" font-size="5.7" class="w" textLength="18" lengthAdjust="spacingAndGlyphs">220cm</text>
<line x1="770.6" y1="581.4" x2="798.8" y2="581.4" stroke="#fff" stroke-width="0.8" marker-end="url(#aw)" marker-start="url(#aw)"/>
<line x1="800" y1="580.4" x2="807.6" y2="572.6" stroke="#fff" stroke-width="0.8" marker-end="url(#aw)"/>
<text x="777.8" y="587.6" font-size="5.2" class="w" textLength="12.5" lengthAdjust="spacingAndGlyphs">75cm</text>
<text x="801.4" y="585.4" font-size="5.2" class="w" textLength="12.6" lengthAdjust="spacingAndGlyphs">75cm</text>
<path d="M766,573 V591.5 H816.5 V573 M782.3,591.5 V602.3 H755.3" fill="none" stroke="#fff" stroke-width="0.8"/>
<path d="M764.4,574 L766,570.2 L767.6,574 Z M814.9,574 L816.5,570.2 L818.1,574 Z" fill="#fff"/>
<text x="727.8" y="600.3" font-size="5.7" class="w" textLength="25" lengthAdjust="spacingAndGlyphs">Minimum</text>
<text x="727.8" y="607.8" font-size="5.7" class="w" textLength="19.5" lengthAdjust="spacingAndGlyphs">91.5cm</text>
<rect x="787.8" y="600.8" width="101.2" height="3.8" fill="#4a2f18" rx="1"/>
<rect x="788.2" y="601.2" width="100.4" height="2.4" fill="#7a5230" rx="0.8"/>
<path d="M824,467 V626" fill="none" stroke="#4f361e" stroke-width="2.7" stroke-linejoin="round"/>
<path d="M824,467 V626" fill="none" stroke="#8a6238" stroke-width="1.7" stroke-linejoin="round"/>
<path d="M852.8,467 V626" fill="none" stroke="#4f361e" stroke-width="2.7" stroke-linejoin="round"/>
<path d="M852.8,467 V626" fill="none" stroke="#8a6238" stroke-width="1.7" stroke-linejoin="round"/>
<rect x="820.3" y="470.2" width="35.7" height="4" fill="#4a2f18" rx="1"/>
<rect x="820.7" y="470.6" width="34.9" height="2.6" fill="#8d5c32" rx="0.8"/>
<rect x="820.3" y="488.8" width="35.7" height="4" fill="#4a2f18" rx="1"/>
<rect x="820.7" y="489.2" width="34.9" height="2.6" fill="#8d5c32" rx="0.8"/>
<rect x="820.3" y="507.4" width="35.7" height="4" fill="#4a2f18" rx="1"/>
<rect x="820.7" y="507.8" width="34.9" height="2.6" fill="#8d5c32" rx="0.8"/>
<rect x="820.3" y="526" width="35.7" height="4" fill="#4a2f18" rx="1"/>
<rect x="820.7" y="526.4" width="34.9" height="2.6" fill="#8d5c32" rx="0.8"/>
<rect x="820.3" y="544.6" width="35.7" height="4" fill="#4a2f18" rx="1"/>
<rect x="820.7" y="545" width="34.9" height="2.6" fill="#8d5c32" rx="0.8"/>
<rect x="820.3" y="563.2" width="35.7" height="4" fill="#4a2f18" rx="1"/>
<rect x="820.7" y="563.6" width="34.9" height="2.6" fill="#8d5c32" rx="0.8"/>
<rect x="820.3" y="581.8" width="35.7" height="4" fill="#4a2f18" rx="1"/>
<rect x="820.7" y="582.2" width="34.9" height="2.6" fill="#8d5c32" rx="0.8"/>
<rect x="820.3" y="600.4" width="35.7" height="4" fill="#4a2f18" rx="1"/>
<rect x="820.7" y="600.8" width="34.9" height="2.6" fill="#8d5c32" rx="0.8"/>
<rect x="820.3" y="619" width="35.7" height="4" fill="#4a2f18" rx="1"/>
<rect x="820.7" y="619.4" width="34.9" height="2.6" fill="#8d5c32" rx="0.8"/>
<text x="862" y="530.3" font-size="5.7" class="w" textLength="43.8" lengthAdjust="spacingAndGlyphs">Ship’s side doors</text>
<text x="862" y="537.8" font-size="5.7" class="w" textLength="44" lengthAdjust="spacingAndGlyphs">used for transfer</text>
<text x="862" y="545.3" font-size="5.7" class="w" textLength="43.3" lengthAdjust="spacingAndGlyphs">should not open</text>
<text x="862" y="552.8" font-size="5.7" class="w" textLength="22.5" lengthAdjust="spacingAndGlyphs">outward</text>
<rect x="704" y="472.8" width="11.8" height="11.4" fill="#ffffff"/>
<text x="709.9" y="482" font-size="9.4" font-weight="bold" fill="#111" text-anchor="middle">C</text>
</g>
</g>
</g>
</svg>
</body>
</html>
